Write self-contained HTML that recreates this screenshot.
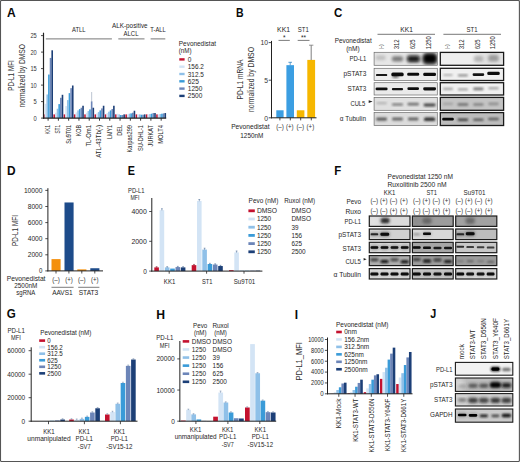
<!DOCTYPE html>
<html><head><meta charset="utf-8"><title>Figure</title>
<style>
html,body{margin:0;padding:0;background:#fff;}
body{width:520px;height:462px;overflow:hidden;}
svg{display:block;font-family:'Liberation Sans', sans-serif;}
</style></head><body>
<svg width="520" height="462" viewBox="0 0 520 462">
<defs>
<filter id="bl" x="-50%" y="-50%" width="200%" height="200%"><feGaussianBlur stdDeviation="0.8"/></filter>
<filter id="bls" x="-50%" y="-50%" width="200%" height="200%"><feGaussianBlur stdDeviation="0.5"/></filter>
<filter id="blm" x="-50%" y="-50%" width="200%" height="200%"><feGaussianBlur stdDeviation="1.5"/></filter>
<filter id="bl2" x="-50%" y="-50%" width="200%" height="200%"><feGaussianBlur stdDeviation="3"/></filter>
</defs>
<rect x="0" y="0" width="520" height="462" fill="#fff"/>

<text x="6.90" y="16.80" font-size="12" text-anchor="start" fill="#0a0a0a" font-weight="700" textLength="8.70" lengthAdjust="spacingAndGlyphs">A</text>
<rect x="43.10" y="114.38" width="1.60" height="3.72" fill="#c4122f" />
<rect x="44.76" y="103.76" width="1.60" height="14.34" fill="#d3e4f5" />
<rect x="46.42" y="94.46" width="1.60" height="23.64" fill="#8fc0e8" />
<rect x="48.08" y="74.54" width="1.60" height="43.56" fill="#3a9bd8" />
<rect x="49.74" y="57.94" width="1.60" height="60.16" fill="#6c85b8" />
<rect x="51.40" y="50.30" width="1.60" height="67.80" fill="#1c3f77" />
<line x1="48.10" y1="118.10" x2="48.10" y2="120.70" stroke="#222" stroke-width="0.9"/>
<rect x="53.38" y="114.38" width="1.60" height="3.72" fill="#c4122f" />
<rect x="55.04" y="112.72" width="1.60" height="5.38" fill="#d3e4f5" />
<rect x="56.70" y="108.74" width="1.60" height="9.36" fill="#8fc0e8" />
<rect x="58.36" y="104.09" width="1.60" height="14.01" fill="#3a9bd8" />
<rect x="60.02" y="97.78" width="1.60" height="20.32" fill="#6c85b8" />
<rect x="61.68" y="94.79" width="1.60" height="23.31" fill="#1c3f77" />
<line x1="58.38" y1="118.10" x2="58.38" y2="120.70" stroke="#222" stroke-width="0.9"/>
<rect x="63.66" y="114.38" width="1.60" height="3.72" fill="#c4122f" />
<rect x="65.32" y="106.08" width="1.60" height="12.02" fill="#d3e4f5" />
<rect x="66.98" y="100.10" width="1.60" height="18.00" fill="#8fc0e8" />
<rect x="68.64" y="93.13" width="1.60" height="24.97" fill="#3a9bd8" />
<rect x="70.30" y="88.15" width="1.60" height="29.95" fill="#6c85b8" />
<rect x="71.96" y="85.50" width="1.60" height="32.60" fill="#1c3f77" />
<line x1="68.66" y1="118.10" x2="68.66" y2="120.70" stroke="#222" stroke-width="0.9"/>
<rect x="73.94" y="114.38" width="1.60" height="3.72" fill="#c4122f" />
<rect x="75.60" y="112.39" width="1.60" height="5.71" fill="#d3e4f5" />
<rect x="77.26" y="110.40" width="1.60" height="7.70" fill="#8fc0e8" />
<rect x="78.92" y="109.07" width="1.60" height="9.03" fill="#3a9bd8" />
<rect x="80.58" y="107.74" width="1.60" height="10.36" fill="#6c85b8" />
<rect x="82.24" y="105.75" width="1.60" height="12.35" fill="#1c3f77" />
<line x1="78.94" y1="118.10" x2="78.94" y2="120.70" stroke="#222" stroke-width="0.9"/>
<rect x="84.22" y="114.38" width="1.60" height="3.72" fill="#c4122f" />
<rect x="85.88" y="112.72" width="1.60" height="5.38" fill="#d3e4f5" />
<rect x="87.54" y="111.06" width="1.60" height="7.04" fill="#8fc0e8" />
<rect x="89.20" y="109.40" width="1.60" height="8.70" fill="#3a9bd8" />
<rect x="90.86" y="101.43" width="1.60" height="16.67" fill="#6c85b8" />
<rect x="92.52" y="107.74" width="1.60" height="10.36" fill="#1c3f77" />
<line x1="91.66" y1="101.93" x2="91.66" y2="92.03" stroke="#7a8aa5" stroke-width="0.5"/>
<line x1="89.22" y1="118.10" x2="89.22" y2="120.70" stroke="#222" stroke-width="0.9"/>
<rect x="94.50" y="114.38" width="1.60" height="3.72" fill="#c4122f" />
<rect x="96.16" y="113.38" width="1.60" height="4.72" fill="#d3e4f5" />
<rect x="97.82" y="112.06" width="1.60" height="6.04" fill="#8fc0e8" />
<rect x="99.48" y="110.40" width="1.60" height="7.70" fill="#3a9bd8" />
<rect x="101.14" y="108.40" width="1.60" height="9.70" fill="#6c85b8" />
<rect x="102.80" y="105.75" width="1.60" height="12.35" fill="#1c3f77" />
<line x1="99.50" y1="118.10" x2="99.50" y2="120.70" stroke="#222" stroke-width="0.9"/>
<rect x="104.78" y="114.38" width="1.60" height="3.72" fill="#c4122f" />
<rect x="106.44" y="113.05" width="1.60" height="5.05" fill="#d3e4f5" />
<rect x="108.10" y="111.72" width="1.60" height="6.38" fill="#8fc0e8" />
<rect x="109.76" y="110.40" width="1.60" height="7.70" fill="#3a9bd8" />
<rect x="111.42" y="109.07" width="1.60" height="9.03" fill="#6c85b8" />
<rect x="113.08" y="105.75" width="1.60" height="12.35" fill="#1c3f77" />
<line x1="109.78" y1="118.10" x2="109.78" y2="120.70" stroke="#222" stroke-width="0.9"/>
<rect x="115.06" y="114.38" width="1.60" height="3.72" fill="#c4122f" />
<rect x="116.72" y="113.72" width="1.60" height="4.38" fill="#d3e4f5" />
<rect x="118.38" y="114.38" width="1.60" height="3.72" fill="#8fc0e8" />
<rect x="120.04" y="115.04" width="1.60" height="3.06" fill="#3a9bd8" />
<rect x="121.70" y="115.04" width="1.60" height="3.06" fill="#6c85b8" />
<rect x="123.36" y="114.38" width="1.60" height="3.72" fill="#1c3f77" />
<line x1="120.06" y1="118.10" x2="120.06" y2="120.70" stroke="#222" stroke-width="0.9"/>
<rect x="125.34" y="114.38" width="1.60" height="3.72" fill="#c4122f" />
<rect x="127.00" y="114.38" width="1.60" height="3.72" fill="#d3e4f5" />
<rect x="128.66" y="113.72" width="1.60" height="4.38" fill="#8fc0e8" />
<rect x="130.32" y="113.38" width="1.60" height="4.72" fill="#3a9bd8" />
<rect x="131.98" y="112.72" width="1.60" height="5.38" fill="#6c85b8" />
<rect x="133.64" y="110.73" width="1.60" height="7.37" fill="#1c3f77" />
<line x1="130.34" y1="118.10" x2="130.34" y2="120.70" stroke="#222" stroke-width="0.9"/>
<rect x="135.62" y="114.38" width="1.60" height="3.72" fill="#c4122f" />
<rect x="137.28" y="114.38" width="1.60" height="3.72" fill="#d3e4f5" />
<rect x="138.94" y="114.38" width="1.60" height="3.72" fill="#8fc0e8" />
<rect x="140.60" y="114.71" width="1.60" height="3.39" fill="#3a9bd8" />
<rect x="142.26" y="114.71" width="1.60" height="3.39" fill="#6c85b8" />
<rect x="143.92" y="114.38" width="1.60" height="3.72" fill="#1c3f77" />
<line x1="140.62" y1="118.10" x2="140.62" y2="120.70" stroke="#222" stroke-width="0.9"/>
<rect x="145.90" y="114.38" width="1.60" height="3.72" fill="#c4122f" />
<rect x="147.56" y="114.38" width="1.60" height="3.72" fill="#d3e4f5" />
<rect x="149.22" y="114.05" width="1.60" height="4.05" fill="#8fc0e8" />
<rect x="150.88" y="113.72" width="1.60" height="4.38" fill="#3a9bd8" />
<rect x="152.54" y="113.05" width="1.60" height="5.05" fill="#6c85b8" />
<rect x="154.20" y="113.05" width="1.60" height="5.05" fill="#1c3f77" />
<line x1="150.90" y1="118.10" x2="150.90" y2="120.70" stroke="#222" stroke-width="0.9"/>
<rect x="156.18" y="114.38" width="1.60" height="3.72" fill="#c4122f" />
<rect x="157.84" y="114.38" width="1.60" height="3.72" fill="#d3e4f5" />
<rect x="159.50" y="114.05" width="1.60" height="4.05" fill="#8fc0e8" />
<rect x="161.16" y="113.72" width="1.60" height="4.38" fill="#3a9bd8" />
<rect x="162.82" y="113.38" width="1.60" height="4.72" fill="#6c85b8" />
<rect x="164.48" y="113.05" width="1.60" height="5.05" fill="#1c3f77" />
<line x1="161.18" y1="118.10" x2="161.18" y2="120.70" stroke="#222" stroke-width="0.9"/>
<line x1="43.50" y1="32.70" x2="43.50" y2="118.70" stroke="#222" stroke-width="1.2"/>
<line x1="42.90" y1="118.10" x2="166.20" y2="118.10" stroke="#222" stroke-width="1.2"/>
<line x1="41.00" y1="118.10" x2="43.50" y2="118.10" stroke="#222" stroke-width="0.8"/>
<text x="36.70" y="120.50" font-size="6.8" text-anchor="end" fill="#333" textLength="3.20" lengthAdjust="spacingAndGlyphs">0</text>
<line x1="41.00" y1="101.60" x2="43.50" y2="101.60" stroke="#222" stroke-width="0.8"/>
<text x="36.70" y="104.00" font-size="6.8" text-anchor="end" fill="#333" textLength="3.20" lengthAdjust="spacingAndGlyphs">5</text>
<line x1="41.00" y1="85.10" x2="43.50" y2="85.10" stroke="#222" stroke-width="0.8"/>
<text x="36.70" y="87.50" font-size="6.8" text-anchor="end" fill="#333" textLength="6.30" lengthAdjust="spacingAndGlyphs">10</text>
<line x1="41.00" y1="68.60" x2="43.50" y2="68.60" stroke="#222" stroke-width="0.8"/>
<text x="36.70" y="71.00" font-size="6.8" text-anchor="end" fill="#333" textLength="6.30" lengthAdjust="spacingAndGlyphs">15</text>
<line x1="41.00" y1="52.10" x2="43.50" y2="52.10" stroke="#222" stroke-width="0.8"/>
<text x="36.70" y="54.50" font-size="6.8" text-anchor="end" fill="#333" textLength="6.30" lengthAdjust="spacingAndGlyphs">20</text>
<line x1="41.00" y1="35.60" x2="43.50" y2="35.60" stroke="#222" stroke-width="0.8"/>
<text x="36.70" y="38.00" font-size="6.8" text-anchor="end" fill="#333" textLength="6.30" lengthAdjust="spacingAndGlyphs">25</text>
<text x="13.70" y="75.50" font-size="8.2" text-anchor="middle" fill="#333" textLength="30.60" lengthAdjust="spacingAndGlyphs" transform="rotate(-90 13.70 75.50)">PD-L1 MFI</text>
<text x="25.10" y="75.80" font-size="8.2" text-anchor="middle" fill="#333" textLength="63.50" lengthAdjust="spacingAndGlyphs" transform="rotate(-90 25.10 75.80)">normalized by DMSO</text>
<line x1="45.80" y1="38.90" x2="111.90" y2="38.90" stroke="#777" stroke-width="1"/>
<line x1="118.30" y1="38.90" x2="144.50" y2="38.90" stroke="#777" stroke-width="1"/>
<line x1="150.60" y1="38.90" x2="165.30" y2="38.90" stroke="#777" stroke-width="1"/>
<text x="78.80" y="32.10" font-size="7" text-anchor="middle" fill="#1e1e1e" textLength="13.50" lengthAdjust="spacingAndGlyphs">ATLL</text>
<text x="129.80" y="27.70" font-size="7.2" text-anchor="middle" fill="#1e1e1e" textLength="35.60" lengthAdjust="spacingAndGlyphs">ALK-positive</text>
<text x="131.00" y="36.20" font-size="7.2" text-anchor="middle" fill="#1e1e1e" textLength="15.00" lengthAdjust="spacingAndGlyphs">ALCL</text>
<text x="158.00" y="32.20" font-size="7.2" text-anchor="middle" fill="#1e1e1e" textLength="15.40" lengthAdjust="spacingAndGlyphs">T-ALL</text>
<text x="50.00" y="125.00" font-size="7" text-anchor="end" fill="#1e1e1e" textLength="9.20" lengthAdjust="spacingAndGlyphs" transform="rotate(-90 50.00 125.00)">KK1</text>
<text x="60.28" y="125.00" font-size="7" text-anchor="end" fill="#1e1e1e" textLength="8.60" lengthAdjust="spacingAndGlyphs" transform="rotate(-90 60.28 125.00)">ST1</text>
<text x="70.56" y="125.00" font-size="7" text-anchor="end" fill="#1e1e1e" textLength="18.80" lengthAdjust="spacingAndGlyphs" transform="rotate(-90 70.56 125.00)">Su9T01</text>
<text x="80.84" y="125.00" font-size="7" text-anchor="end" fill="#1e1e1e" textLength="11.30" lengthAdjust="spacingAndGlyphs" transform="rotate(-90 80.84 125.00)">KOB</text>
<text x="91.12" y="125.00" font-size="7" text-anchor="end" fill="#1e1e1e" textLength="21.50" lengthAdjust="spacingAndGlyphs" transform="rotate(-90 91.12 125.00)">TL-Om1</text>
<text x="101.40" y="125.00" font-size="7" text-anchor="end" fill="#1e1e1e" textLength="32.80" lengthAdjust="spacingAndGlyphs" transform="rotate(-90 101.40 125.00)">ATL-43Tb(-)</text>
<text x="111.68" y="125.00" font-size="7" text-anchor="end" fill="#1e1e1e" textLength="14.00" lengthAdjust="spacingAndGlyphs" transform="rotate(-90 111.68 125.00)">LMY1</text>
<text x="121.96" y="125.00" font-size="7" text-anchor="end" fill="#1e1e1e" textLength="10.80" lengthAdjust="spacingAndGlyphs" transform="rotate(-90 121.96 125.00)">DEL</text>
<text x="132.24" y="125.00" font-size="7" text-anchor="end" fill="#1e1e1e" textLength="27.50" lengthAdjust="spacingAndGlyphs" transform="rotate(-90 132.24 125.00)">Karpas299</text>
<text x="142.52" y="125.00" font-size="7" text-anchor="end" fill="#1e1e1e" textLength="26.00" lengthAdjust="spacingAndGlyphs" transform="rotate(-90 142.52 125.00)">SU-DHL-1</text>
<text x="152.80" y="125.00" font-size="7" text-anchor="end" fill="#1e1e1e" textLength="21.50" lengthAdjust="spacingAndGlyphs" transform="rotate(-90 152.80 125.00)">JURKAT</text>
<text x="163.08" y="125.00" font-size="7" text-anchor="end" fill="#1e1e1e" textLength="18.80" lengthAdjust="spacingAndGlyphs" transform="rotate(-90 163.08 125.00)">MOLT4</text>
<text x="178.80" y="45.60" font-size="7.2" text-anchor="start" fill="#1e1e1e" textLength="37.20" lengthAdjust="spacingAndGlyphs">Pevonedistat</text>
<text x="178.80" y="53.40" font-size="7.2" text-anchor="start" fill="#1e1e1e" textLength="12.80" lengthAdjust="spacingAndGlyphs">(nM)</text>
<rect x="179.30" y="58.20" width="5.30" height="2.40" fill="#c4122f" />
<text x="187.80" y="61.90" font-size="7.2" text-anchor="start" fill="#1e1e1e" textLength="3.60" lengthAdjust="spacingAndGlyphs">0</text>
<rect x="179.30" y="65.50" width="5.30" height="2.40" fill="#d3e4f5" />
<text x="187.80" y="69.20" font-size="7.2" text-anchor="start" fill="#1e1e1e" textLength="16.00" lengthAdjust="spacingAndGlyphs">156.2</text>
<rect x="179.30" y="72.80" width="5.30" height="2.40" fill="#8fc0e8" />
<text x="187.80" y="76.50" font-size="7.2" text-anchor="start" fill="#1e1e1e" textLength="16.00" lengthAdjust="spacingAndGlyphs">312.5</text>
<rect x="179.30" y="80.10" width="5.30" height="2.40" fill="#3a9bd8" />
<text x="187.80" y="83.80" font-size="7.2" text-anchor="start" fill="#1e1e1e" textLength="11.00" lengthAdjust="spacingAndGlyphs">625</text>
<rect x="179.30" y="87.40" width="5.30" height="2.40" fill="#6c85b8" />
<text x="187.80" y="91.10" font-size="7.2" text-anchor="start" fill="#1e1e1e" textLength="14.50" lengthAdjust="spacingAndGlyphs">1250</text>
<rect x="179.30" y="94.70" width="5.30" height="2.40" fill="#1c3f77" />
<text x="187.80" y="98.40" font-size="7.2" text-anchor="start" fill="#1e1e1e" textLength="14.50" lengthAdjust="spacingAndGlyphs">2500</text>
<text x="235.90" y="16.80" font-size="12" text-anchor="start" fill="#0a0a0a" font-weight="700" textLength="7.60" lengthAdjust="spacingAndGlyphs">B</text>
<rect x="276.30" y="110.28" width="7.30" height="7.52" fill="#3b9ee2" />
<rect x="286.40" y="65.16" width="7.60" height="52.64" fill="#3b9ee2" />
<rect x="296.80" y="110.28" width="7.60" height="7.52" fill="#f6b700" />
<rect x="307.30" y="59.90" width="7.80" height="57.90" fill="#f6b700" />
<line x1="290.20" y1="65.16" x2="290.20" y2="62.30" stroke="#3586c4" stroke-width="0.8"/>
<line x1="288.40" y1="62.30" x2="292.00" y2="62.30" stroke="#3586c4" stroke-width="0.8"/>
<line x1="311.20" y1="59.90" x2="311.20" y2="45.10" stroke="#8a8a8a" stroke-width="1.1"/>
<line x1="309.00" y1="45.20" x2="313.40" y2="45.20" stroke="#8a8a8a" stroke-width="0.9"/>
<line x1="271.50" y1="40.90" x2="271.50" y2="118.30" stroke="#222" stroke-width="1"/>
<line x1="271.00" y1="117.80" x2="316.50" y2="117.80" stroke="#222" stroke-width="1"/>
<line x1="279.90" y1="117.80" x2="279.90" y2="120.40" stroke="#222" stroke-width="0.8"/>
<line x1="290.30" y1="117.80" x2="290.30" y2="120.40" stroke="#222" stroke-width="0.8"/>
<line x1="300.70" y1="117.80" x2="300.70" y2="120.40" stroke="#222" stroke-width="0.8"/>
<line x1="311.30" y1="117.80" x2="311.30" y2="120.40" stroke="#222" stroke-width="0.8"/>
<line x1="268.70" y1="117.80" x2="271.50" y2="117.80" stroke="#222" stroke-width="0.8"/>
<text x="268.00" y="120.50" font-size="7.6" text-anchor="end" fill="#333" textLength="3.80" lengthAdjust="spacingAndGlyphs">0</text>
<line x1="268.70" y1="80.20" x2="271.50" y2="80.20" stroke="#222" stroke-width="0.8"/>
<text x="268.00" y="82.90" font-size="7.6" text-anchor="end" fill="#333" textLength="3.80" lengthAdjust="spacingAndGlyphs">5</text>
<line x1="268.70" y1="42.60" x2="271.50" y2="42.60" stroke="#222" stroke-width="0.8"/>
<text x="268.00" y="45.30" font-size="7.6" text-anchor="end" fill="#333" textLength="7.60" lengthAdjust="spacingAndGlyphs">10</text>
<text x="243.30" y="79.50" font-size="8.8" text-anchor="middle" fill="#333" textLength="40.00" lengthAdjust="spacingAndGlyphs" transform="rotate(-90 243.30 79.50)">PD-L1 mRNA</text>
<text x="254.20" y="79.50" font-size="8.8" text-anchor="middle" fill="#333" textLength="65.00" lengthAdjust="spacingAndGlyphs" transform="rotate(-90 254.20 79.50)">normalized by DMSO</text>
<text x="283.60" y="32.00" font-size="7.2" text-anchor="middle" fill="#1e1e1e" textLength="13.00" lengthAdjust="spacingAndGlyphs">KK1</text>
<text x="303.30" y="32.00" font-size="7.2" text-anchor="middle" fill="#1e1e1e" textLength="11.00" lengthAdjust="spacingAndGlyphs">ST1</text>
<line x1="278.50" y1="40.40" x2="289.80" y2="40.40" stroke="#444" stroke-width="0.7"/>
<line x1="297.70" y1="40.40" x2="309.50" y2="40.40" stroke="#444" stroke-width="0.7"/>
<text x="284.20" y="40.20" font-size="6.5" text-anchor="middle" fill="#1e1e1e">*</text>
<text x="303.60" y="40.20" font-size="6.5" text-anchor="middle" fill="#1e1e1e">**</text>
<text x="280.00" y="129.20" font-size="6.4" text-anchor="middle" fill="#333" textLength="7.60" lengthAdjust="spacingAndGlyphs">(–)</text>
<text x="289.80" y="129.20" font-size="6.4" text-anchor="middle" fill="#333" textLength="7.60" lengthAdjust="spacingAndGlyphs">(+)</text>
<text x="300.20" y="129.20" font-size="6.4" text-anchor="middle" fill="#333" textLength="7.60" lengthAdjust="spacingAndGlyphs">(–)</text>
<text x="310.40" y="129.20" font-size="6.4" text-anchor="middle" fill="#333" textLength="7.60" lengthAdjust="spacingAndGlyphs">(+)</text>
<text x="231.20" y="129.40" font-size="6.8" text-anchor="start" fill="#1e1e1e" textLength="38.30" lengthAdjust="spacingAndGlyphs">Pevonedistat</text>
<text x="251.80" y="138.00" font-size="6.8" text-anchor="middle" fill="#1e1e1e" textLength="23.00" lengthAdjust="spacingAndGlyphs">1250nM</text>
<text x="334.00" y="16.70" font-size="12" text-anchor="start" fill="#0a0a0a" font-weight="700" textLength="8.30" lengthAdjust="spacingAndGlyphs">C</text>
<line x1="377.50" y1="34.30" x2="435.00" y2="34.30" stroke="#555" stroke-width="0.8"/>
<line x1="443.40" y1="34.30" x2="501.00" y2="34.30" stroke="#555" stroke-width="0.8"/>
<text x="406.60" y="32.30" font-size="7.2" text-anchor="middle" fill="#1e1e1e" textLength="12.50" lengthAdjust="spacingAndGlyphs">KK1</text>
<text x="472.00" y="32.30" font-size="7.2" text-anchor="middle" fill="#1e1e1e" textLength="11.00" lengthAdjust="spacingAndGlyphs">ST1</text>
<text x="334.70" y="42.70" font-size="7.2" text-anchor="start" fill="#1e1e1e" textLength="37.00" lengthAdjust="spacingAndGlyphs">Pevonedistat</text>
<text x="352.90" y="50.60" font-size="7.2" text-anchor="middle" fill="#1e1e1e" textLength="13.50" lengthAdjust="spacingAndGlyphs">(nM)</text>
<text x="382.80" y="49.30" font-size="5.6" text-anchor="start" fill="#1e1e1e" textLength="5.00" lengthAdjust="spacingAndGlyphs" transform="rotate(-90 382.80 49.30)">(–)</text>
<text x="398.90" y="49.30" font-size="6.8" text-anchor="start" fill="#1e1e1e" textLength="9.80" lengthAdjust="spacingAndGlyphs" transform="rotate(-90 398.90 49.30)">312</text>
<text x="414.60" y="49.30" font-size="6.8" text-anchor="start" fill="#1e1e1e" textLength="9.80" lengthAdjust="spacingAndGlyphs" transform="rotate(-90 414.60 49.30)">625</text>
<text x="431.00" y="49.30" font-size="6.8" text-anchor="start" fill="#1e1e1e" textLength="13.00" lengthAdjust="spacingAndGlyphs" transform="rotate(-90 431.00 49.30)">1250</text>
<text x="449.20" y="49.30" font-size="5.6" text-anchor="start" fill="#1e1e1e" textLength="5.00" lengthAdjust="spacingAndGlyphs" transform="rotate(-90 449.20 49.30)">(–)</text>
<text x="464.30" y="49.30" font-size="6.8" text-anchor="start" fill="#1e1e1e" textLength="9.80" lengthAdjust="spacingAndGlyphs" transform="rotate(-90 464.30 49.30)">312</text>
<text x="479.80" y="49.30" font-size="6.8" text-anchor="start" fill="#1e1e1e" textLength="9.80" lengthAdjust="spacingAndGlyphs" transform="rotate(-90 479.80 49.30)">625</text>
<text x="494.90" y="49.30" font-size="6.8" text-anchor="start" fill="#1e1e1e" textLength="13.00" lengthAdjust="spacingAndGlyphs" transform="rotate(-90 494.90 49.30)">1250</text>
<text x="366.40" y="60.80" font-size="7.2" text-anchor="end" fill="#1e1e1e" textLength="17.00" lengthAdjust="spacingAndGlyphs">PD-L1</text>
<text x="366.40" y="75.80" font-size="7.2" text-anchor="end" fill="#1e1e1e" textLength="23.00" lengthAdjust="spacingAndGlyphs">pSTAT3</text>
<text x="366.40" y="91.20" font-size="7.2" text-anchor="end" fill="#1e1e1e" textLength="18.80" lengthAdjust="spacingAndGlyphs">STAT3</text>
<text x="365.40" y="105.90" font-size="7.2" text-anchor="end" fill="#1e1e1e" textLength="15.00" lengthAdjust="spacingAndGlyphs">CUL5</text>
<path d="M368.7,100.3 L372.6,101.6 L368.7,102.9 Z" fill="#222"/>
<text x="366.00" y="120.50" font-size="7.2" text-anchor="end" fill="#1e1e1e" textLength="26.20" lengthAdjust="spacingAndGlyphs">α Tubulin</text>
<clipPath id="c1"><rect x="374.10" y="52.30" width="63.20" height="13.00"/></clipPath>
<rect x="374.10" y="52.30" width="63.20" height="13.00" fill="#e6e6e6" />
<g clip-path="url(#c1)">
<rect x="375.60" y="55.56" width="10.00" height="4.40" rx="1.87" fill="#999" opacity="0.5" filter="url(#blm)"/>
<rect x="391.90" y="56.20" width="11.20" height="5.20" rx="2.21" fill="#666" opacity="0.85" filter="url(#blm)"/>
<rect x="406.30" y="54.60" width="14.40" height="8.40" rx="3.57" fill="#555" opacity="0.55" filter="url(#blm)"/>
<rect x="407.70" y="56.20" width="11.60" height="5.20" rx="2.21" fill="#0c0c0c" opacity="0.95" filter="url(#blm)"/>
<rect x="421.90" y="52.30" width="16.00" height="13.00" rx="5.52" fill="#444" opacity="0.75" filter="url(#blm)"/>
<rect x="423.70" y="54.34" width="12.40" height="8.40" rx="3.57" fill="#050505" opacity="1" filter="url(#blm)"/>
</g>
<rect x="374.10" y="52.30" width="63.20" height="13.00" fill="none" stroke="#6a6a6a" stroke-width="0.7"/>
<clipPath id="c2"><rect x="374.10" y="68.30" width="63.20" height="12.20"/></clipPath>
<rect x="374.10" y="68.30" width="63.20" height="12.20" fill="#ededed" />
<g clip-path="url(#c2)">
<rect x="376.00" y="74.01" width="11.20" height="2.00" rx="0.85" fill="#111" opacity="0.95" filter="url(#bls)"/>
<rect x="391.30" y="72.50" width="12.40" height="3.80" rx="1.61" fill="#111" opacity="1" filter="url(#bls)"/>
<rect x="392.50" y="75.40" width="6.00" height="2.40" rx="1.02" fill="#111" opacity="0.7" filter="url(#bl)"/>
<rect x="407.20" y="72.66" width="12.00" height="3.00" rx="1.27" fill="#111" opacity="1" filter="url(#bls)"/>
<rect x="423.20" y="72.70" width="12.80" height="3.40" rx="1.44" fill="#111" opacity="1" filter="url(#bls)"/>
</g>
<rect x="374.10" y="68.30" width="63.20" height="12.20" fill="none" stroke="#6a6a6a" stroke-width="0.7"/>
<clipPath id="c3"><rect x="374.10" y="82.70" width="63.20" height="12.30"/></clipPath>
<rect x="374.10" y="82.70" width="63.20" height="12.30" fill="#eaeaea" />
<g clip-path="url(#c3)">
<rect x="375.60" y="87.45" width="12.00" height="2.80" rx="1.19" fill="#111" opacity="1" filter="url(#bls)"/>
<rect x="391.90" y="87.90" width="11.20" height="2.40" rx="1.02" fill="#111" opacity="0.97" filter="url(#bls)"/>
<rect x="407.40" y="87.20" width="11.60" height="2.80" rx="1.19" fill="#111" opacity="1" filter="url(#bls)"/>
<rect x="423.20" y="87.15" width="12.80" height="3.40" rx="1.44" fill="#111" opacity="1" filter="url(#bls)"/>
</g>
<rect x="374.10" y="82.70" width="63.20" height="12.30" fill="none" stroke="#6a6a6a" stroke-width="0.7"/>
<clipPath id="c4"><rect x="374.10" y="97.40" width="63.20" height="12.90"/></clipPath>
<rect x="374.10" y="97.40" width="63.20" height="12.90" fill="#e0e0e0" />
<g clip-path="url(#c4)">
<rect x="376.40" y="102.11" width="10.40" height="2.20" rx="0.94" fill="#666" opacity="0.35" filter="url(#bl)"/>
<rect x="391.90" y="103.30" width="11.20" height="2.40" rx="1.02" fill="#444" opacity="0.6" filter="url(#bl)"/>
<rect x="407.40" y="102.81" width="11.60" height="2.60" rx="1.10" fill="#444" opacity="0.7" filter="url(#bl)"/>
<rect x="423.60" y="103.38" width="12.00" height="3.00" rx="1.27" fill="#2a2a2a" opacity="0.85" filter="url(#bl)"/>
</g>
<rect x="374.10" y="97.40" width="63.20" height="12.90" fill="none" stroke="#6a6a6a" stroke-width="0.7"/>
<clipPath id="c5"><rect x="374.10" y="112.60" width="63.20" height="12.90"/></clipPath>
<rect x="374.10" y="112.60" width="63.20" height="12.90" fill="#dcdcdc" />
<g clip-path="url(#c5)">
<rect x="376.20" y="117.45" width="10.80" height="3.20" rx="1.36" fill="#333" opacity="0.75" filter="url(#bl)"/>
<rect x="392.10" y="117.55" width="10.80" height="3.00" rx="1.27" fill="#333" opacity="0.7" filter="url(#bl)"/>
<rect x="408.00" y="117.55" width="10.40" height="3.00" rx="1.27" fill="#333" opacity="0.72" filter="url(#bl)"/>
<rect x="424.00" y="117.51" width="11.20" height="3.60" rx="1.53" fill="#1a1a1a" opacity="0.9" filter="url(#bl)"/>
</g>
<rect x="374.10" y="112.60" width="63.20" height="12.90" fill="none" stroke="#6a6a6a" stroke-width="0.7"/>
<clipPath id="c6"><rect x="440.30" y="52.40" width="63.30" height="12.90"/></clipPath>
<rect x="440.30" y="52.40" width="63.30" height="12.90" fill="#eeeeee" />
<g clip-path="url(#c6)">
<rect x="480.30" y="52.40" width="23.30" height="12.90" fill="#bbb" opacity="0.3" filter="url(#bl2)"/>
<rect x="473.80" y="55.85" width="9.20" height="6.00" rx="2.55" fill="#888" opacity="0.55" filter="url(#blm)"/>
<rect x="488.30" y="54.80" width="10.40" height="6.80" rx="2.89" fill="#777" opacity="0.65" filter="url(#blm)"/>
</g>
<rect x="440.30" y="52.40" width="63.30" height="12.90" fill="none" stroke="#1a1a1a" stroke-width="1.3"/>
<clipPath id="c7"><rect x="440.30" y="68.30" width="63.30" height="12.20"/></clipPath>
<rect x="440.30" y="68.30" width="63.30" height="12.20" fill="#f0f0f0" />
<g clip-path="url(#c7)">
<rect x="443.40" y="74.01" width="9.20" height="2.00" rx="0.85" fill="#555" opacity="0.4" filter="url(#bl)"/>
<rect x="457.90" y="74.28" width="10.00" height="2.20" rx="0.94" fill="#444" opacity="0.55" filter="url(#bl)"/>
<rect x="472.60" y="73.34" width="11.60" height="2.60" rx="1.10" fill="#111" opacity="0.97" filter="url(#bls)"/>
<rect x="487.30" y="71.82" width="12.40" height="3.20" rx="1.36" fill="#0a0a0a" opacity="1" filter="url(#bls)"/>
</g>
<rect x="440.30" y="68.30" width="63.30" height="12.20" fill="none" stroke="#1a1a1a" stroke-width="1.3"/>
<clipPath id="c8"><rect x="440.30" y="82.70" width="63.30" height="12.30"/></clipPath>
<rect x="440.30" y="82.70" width="63.30" height="12.30" fill="#f0f0f0" />
<g clip-path="url(#c8)">
<rect x="443.00" y="87.75" width="10.00" height="2.20" rx="0.94" fill="#555" opacity="0.5" filter="url(#bl)"/>
<rect x="457.90" y="88.37" width="10.00" height="2.20" rx="0.94" fill="#555" opacity="0.5" filter="url(#bl)"/>
<rect x="473.20" y="87.55" width="10.40" height="2.60" rx="1.10" fill="#444" opacity="0.7" filter="url(#bl)"/>
<rect x="488.30" y="87.14" width="10.40" height="2.20" rx="0.94" fill="#555" opacity="0.55" filter="url(#bl)"/>
</g>
<rect x="440.30" y="82.70" width="63.30" height="12.30" fill="none" stroke="#1a1a1a" stroke-width="1.3"/>
<clipPath id="c9"><rect x="440.30" y="97.40" width="63.30" height="12.90"/></clipPath>
<rect x="440.30" y="97.40" width="63.30" height="12.90" fill="#c4c4c4" />
<g clip-path="url(#c9)">
<rect x="443.00" y="102.65" width="10.00" height="2.40" rx="1.02" fill="#777" opacity="0.45" filter="url(#bl)"/>
<rect x="457.50" y="103.09" width="10.80" height="2.80" rx="1.19" fill="#555" opacity="0.65" filter="url(#bl)"/>
<rect x="473.20" y="103.20" width="10.40" height="2.60" rx="1.10" fill="#555" opacity="0.6" filter="url(#bl)"/>
<rect x="488.30" y="102.55" width="10.40" height="2.60" rx="1.10" fill="#666" opacity="0.55" filter="url(#bl)"/>
</g>
<rect x="440.30" y="97.40" width="63.30" height="12.90" fill="none" stroke="#1a1a1a" stroke-width="1.3"/>
<clipPath id="c10"><rect x="440.30" y="112.60" width="63.30" height="12.90"/></clipPath>
<rect x="440.30" y="112.60" width="63.30" height="12.90" fill="#bcbcbc" />
<g clip-path="url(#c10)">
<rect x="442.20" y="117.65" width="11.60" height="2.80" rx="1.19" fill="#0c0c0c" opacity="1" filter="url(#bls)"/>
<rect x="457.70" y="118.39" width="10.40" height="2.60" rx="1.10" fill="#222" opacity="0.8" filter="url(#bl)"/>
<rect x="473.20" y="118.39" width="10.40" height="2.60" rx="1.10" fill="#333" opacity="0.7" filter="url(#bl)"/>
<rect x="488.10" y="117.75" width="10.80" height="2.60" rx="1.10" fill="#333" opacity="0.68" filter="url(#bl)"/>
</g>
<rect x="440.30" y="112.60" width="63.30" height="12.90" fill="none" stroke="#1a1a1a" stroke-width="1.3"/>
<text x="6.90" y="174.60" font-size="12" text-anchor="start" fill="#0a0a0a" font-weight="700" textLength="8.60" lengthAdjust="spacingAndGlyphs">D</text>
<rect x="51.50" y="259.11" width="9.10" height="11.79" fill="#f4900c" />
<rect x="64.50" y="202.47" width="9.10" height="68.42" fill="#1d4b8a" />
<rect x="77.30" y="269.37" width="9.10" height="1.53" fill="#f4900c" />
<rect x="90.30" y="268.24" width="9.10" height="2.66" fill="#1d4b8a" />
<line x1="47.90" y1="188.20" x2="47.90" y2="271.40" stroke="#222" stroke-width="1"/>
<line x1="47.40" y1="270.90" x2="103.00" y2="270.90" stroke="#222" stroke-width="1"/>
<line x1="56.00" y1="270.90" x2="56.00" y2="273.50" stroke="#222" stroke-width="0.8"/>
<line x1="68.90" y1="270.90" x2="68.90" y2="273.50" stroke="#222" stroke-width="0.8"/>
<line x1="81.80" y1="270.90" x2="81.80" y2="273.50" stroke="#222" stroke-width="0.8"/>
<line x1="94.80" y1="270.90" x2="94.80" y2="273.50" stroke="#222" stroke-width="0.8"/>
<line x1="45.30" y1="270.90" x2="47.90" y2="270.90" stroke="#222" stroke-width="0.8"/>
<text x="42.50" y="273.30" font-size="6.8" text-anchor="end" fill="#1e1e1e" textLength="3.40" lengthAdjust="spacingAndGlyphs">0</text>
<line x1="45.30" y1="254.80" x2="47.90" y2="254.80" stroke="#222" stroke-width="0.8"/>
<text x="42.50" y="257.20" font-size="6.8" text-anchor="end" fill="#1e1e1e" textLength="14.80" lengthAdjust="spacingAndGlyphs">2000</text>
<line x1="45.30" y1="238.70" x2="47.90" y2="238.70" stroke="#222" stroke-width="0.8"/>
<text x="42.50" y="241.10" font-size="6.8" text-anchor="end" fill="#1e1e1e" textLength="14.80" lengthAdjust="spacingAndGlyphs">4000</text>
<line x1="45.30" y1="222.60" x2="47.90" y2="222.60" stroke="#222" stroke-width="0.8"/>
<text x="42.50" y="225.00" font-size="6.8" text-anchor="end" fill="#1e1e1e" textLength="14.80" lengthAdjust="spacingAndGlyphs">6000</text>
<line x1="45.30" y1="206.50" x2="47.90" y2="206.50" stroke="#222" stroke-width="0.8"/>
<text x="42.50" y="208.90" font-size="6.8" text-anchor="end" fill="#1e1e1e" textLength="14.80" lengthAdjust="spacingAndGlyphs">8000</text>
<line x1="45.30" y1="190.40" x2="47.90" y2="190.40" stroke="#222" stroke-width="0.8"/>
<text x="42.50" y="192.80" font-size="6.8" text-anchor="end" fill="#1e1e1e" textLength="18.60" lengthAdjust="spacingAndGlyphs">10000</text>
<text x="18.00" y="230.50" font-size="8.6" text-anchor="middle" fill="#333" textLength="31.00" lengthAdjust="spacingAndGlyphs" transform="rotate(-90 18.00 230.50)">PD-L1 MFI</text>
<text x="6.70" y="280.50" font-size="6.6" text-anchor="start" fill="#1e1e1e" textLength="38.80" lengthAdjust="spacingAndGlyphs">Pevonedistat</text>
<text x="25.80" y="287.60" font-size="6.6" text-anchor="middle" fill="#1e1e1e" textLength="23.00" lengthAdjust="spacingAndGlyphs">2500nM</text>
<text x="25.80" y="294.80" font-size="6.6" text-anchor="middle" fill="#1e1e1e" textLength="19.00" lengthAdjust="spacingAndGlyphs">sgRNA</text>
<text x="56.00" y="282.20" font-size="6.4" text-anchor="middle" fill="#333" textLength="7.60" lengthAdjust="spacingAndGlyphs">(–)</text>
<text x="69.00" y="282.20" font-size="6.4" text-anchor="middle" fill="#333" textLength="7.60" lengthAdjust="spacingAndGlyphs">(+)</text>
<text x="81.80" y="282.20" font-size="6.4" text-anchor="middle" fill="#333" textLength="7.60" lengthAdjust="spacingAndGlyphs">(–)</text>
<text x="94.80" y="282.20" font-size="6.4" text-anchor="middle" fill="#333" textLength="7.60" lengthAdjust="spacingAndGlyphs">(+)</text>
<line x1="51.50" y1="287.30" x2="73.60" y2="287.30" stroke="#444" stroke-width="0.7"/>
<line x1="78.20" y1="287.30" x2="99.40" y2="287.30" stroke="#444" stroke-width="0.7"/>
<text x="62.40" y="295.00" font-size="7" text-anchor="middle" fill="#1e1e1e" textLength="20.50" lengthAdjust="spacingAndGlyphs">AAVS1</text>
<text x="88.50" y="295.00" font-size="7" text-anchor="middle" fill="#1e1e1e" textLength="19.60" lengthAdjust="spacingAndGlyphs">STAT3</text>
<text x="127.70" y="174.60" font-size="12" text-anchor="start" fill="#0a0a0a" font-weight="700" textLength="7.20" lengthAdjust="spacingAndGlyphs">E</text>
<text x="128.00" y="193.00" font-size="7" text-anchor="start" fill="#1e1e1e" textLength="16.50" lengthAdjust="spacingAndGlyphs">PD-L1</text>
<text x="134.90" y="200.20" font-size="7" text-anchor="middle" fill="#1e1e1e" textLength="9.00" lengthAdjust="spacingAndGlyphs">MFI</text>
<rect x="154.30" y="267.38" width="4.60" height="3.73" fill="#c4122f" />
<line x1="156.60" y1="267.68" x2="156.60" y2="266.57" stroke="#7a0a1a" stroke-width="0.5"/>
<line x1="155.70" y1="266.68" x2="157.50" y2="266.68" stroke="#7a0a1a" stroke-width="0.5"/>
<rect x="159.60" y="210.16" width="4.60" height="60.94" fill="#d3e4f5" />
<line x1="161.90" y1="210.46" x2="161.90" y2="208.66" stroke="#3a5f8f" stroke-width="0.5"/>
<line x1="161.00" y1="208.76" x2="162.80" y2="208.76" stroke="#3a5f8f" stroke-width="0.5"/>
<rect x="164.90" y="267.38" width="4.60" height="3.73" fill="#8fc0e8" />
<line x1="167.20" y1="267.68" x2="167.20" y2="266.57" stroke="#3a5f8f" stroke-width="0.5"/>
<line x1="166.30" y1="266.68" x2="168.10" y2="266.68" stroke="#3a5f8f" stroke-width="0.5"/>
<rect x="170.20" y="268.57" width="4.60" height="2.53" fill="#3a9bd8" />
<rect x="175.50" y="267.08" width="4.60" height="4.02" fill="#6c85b8" />
<line x1="177.80" y1="267.38" x2="177.80" y2="266.28" stroke="#3a5f8f" stroke-width="0.5"/>
<line x1="176.90" y1="266.38" x2="178.70" y2="266.38" stroke="#3a5f8f" stroke-width="0.5"/>
<rect x="180.80" y="267.38" width="4.60" height="3.73" fill="#1c3f77" />
<line x1="183.10" y1="267.68" x2="183.10" y2="266.57" stroke="#3a5f8f" stroke-width="0.5"/>
<line x1="182.20" y1="266.68" x2="184.00" y2="266.68" stroke="#3a5f8f" stroke-width="0.5"/>
<rect x="191.70" y="265.14" width="4.60" height="5.96" fill="#c4122f" />
<line x1="194.00" y1="265.44" x2="194.00" y2="264.34" stroke="#7a0a1a" stroke-width="0.5"/>
<line x1="193.10" y1="264.44" x2="194.90" y2="264.44" stroke="#7a0a1a" stroke-width="0.5"/>
<rect x="197.00" y="200.92" width="4.60" height="70.18" fill="#d3e4f5" />
<line x1="199.30" y1="201.22" x2="199.30" y2="199.42" stroke="#3a5f8f" stroke-width="0.5"/>
<line x1="198.40" y1="199.52" x2="200.20" y2="199.52" stroke="#3a5f8f" stroke-width="0.5"/>
<rect x="202.30" y="249.57" width="4.60" height="21.53" fill="#8fc0e8" />
<line x1="204.60" y1="249.87" x2="204.60" y2="248.07" stroke="#3a5f8f" stroke-width="0.5"/>
<line x1="203.70" y1="248.17" x2="205.50" y2="248.17" stroke="#3a5f8f" stroke-width="0.5"/>
<rect x="207.60" y="264.02" width="4.60" height="7.08" fill="#3a9bd8" />
<line x1="209.90" y1="264.32" x2="209.90" y2="263.22" stroke="#3a5f8f" stroke-width="0.5"/>
<line x1="209.00" y1="263.32" x2="210.80" y2="263.32" stroke="#3a5f8f" stroke-width="0.5"/>
<rect x="212.90" y="264.54" width="4.60" height="6.56" fill="#6c85b8" />
<line x1="215.20" y1="264.84" x2="215.20" y2="263.74" stroke="#3a5f8f" stroke-width="0.5"/>
<line x1="214.30" y1="263.84" x2="216.10" y2="263.84" stroke="#3a5f8f" stroke-width="0.5"/>
<rect x="218.20" y="266.03" width="4.60" height="5.07" fill="#1c3f77" />
<line x1="220.50" y1="266.33" x2="220.50" y2="265.23" stroke="#3a5f8f" stroke-width="0.5"/>
<line x1="219.60" y1="265.33" x2="221.40" y2="265.33" stroke="#3a5f8f" stroke-width="0.5"/>
<rect x="229.00" y="270.21" width="4.60" height="0.89" fill="#c4122f" />
<rect x="234.30" y="252.40" width="4.60" height="18.70" fill="#d3e4f5" />
<line x1="236.60" y1="252.70" x2="236.60" y2="250.90" stroke="#3a5f8f" stroke-width="0.5"/>
<line x1="235.70" y1="251.00" x2="237.50" y2="251.00" stroke="#3a5f8f" stroke-width="0.5"/>
<rect x="239.60" y="270.65" width="4.60" height="0.45" fill="#8fc0e8" />
<rect x="244.90" y="270.73" width="4.60" height="0.37" fill="#3a9bd8" />
<rect x="250.20" y="270.65" width="4.60" height="0.45" fill="#6c85b8" />
<rect x="255.50" y="270.65" width="4.60" height="0.45" fill="#1c3f77" />
<line x1="151.80" y1="198.00" x2="151.80" y2="271.60" stroke="#222" stroke-width="1"/>
<line x1="151.30" y1="271.10" x2="262.40" y2="271.10" stroke="#222" stroke-width="1"/>
<line x1="169.20" y1="271.10" x2="169.20" y2="273.70" stroke="#222" stroke-width="0.8"/>
<line x1="206.60" y1="271.10" x2="206.60" y2="273.70" stroke="#222" stroke-width="0.8"/>
<line x1="244.00" y1="271.10" x2="244.00" y2="273.70" stroke="#222" stroke-width="0.8"/>
<line x1="149.20" y1="271.10" x2="151.80" y2="271.10" stroke="#222" stroke-width="0.8"/>
<text x="146.80" y="273.60" font-size="7" text-anchor="end" fill="#1e1e1e" textLength="3.60" lengthAdjust="spacingAndGlyphs">0</text>
<line x1="149.20" y1="241.30" x2="151.80" y2="241.30" stroke="#222" stroke-width="0.8"/>
<text x="146.80" y="243.80" font-size="7" text-anchor="end" fill="#1e1e1e" textLength="15.40" lengthAdjust="spacingAndGlyphs">2000</text>
<line x1="149.20" y1="211.50" x2="151.80" y2="211.50" stroke="#222" stroke-width="0.8"/>
<text x="146.80" y="214.00" font-size="7" text-anchor="end" fill="#1e1e1e" textLength="15.40" lengthAdjust="spacingAndGlyphs">4000</text>
<text x="169.60" y="283.90" font-size="6.8" text-anchor="middle" fill="#1e1e1e" textLength="11.50" lengthAdjust="spacingAndGlyphs">KK1</text>
<text x="207.20" y="283.90" font-size="6.8" text-anchor="middle" fill="#1e1e1e" textLength="10.50" lengthAdjust="spacingAndGlyphs">ST1</text>
<text x="244.50" y="283.90" font-size="6.8" text-anchor="middle" fill="#1e1e1e" textLength="21.50" lengthAdjust="spacingAndGlyphs">Su9T01</text>
<text x="248.60" y="203.10" font-size="7" text-anchor="start" fill="#1e1e1e" textLength="29.70" lengthAdjust="spacingAndGlyphs">Pevo (nM)</text>
<text x="284.30" y="203.10" font-size="7" text-anchor="start" fill="#1e1e1e" textLength="30.90" lengthAdjust="spacingAndGlyphs">Ruxol (nM)</text>
<rect x="248.40" y="209.40" width="6.40" height="2.80" fill="#c4122f" />
<text x="256.90" y="213.10" font-size="6.8" text-anchor="start" fill="#1e1e1e" textLength="20.20" lengthAdjust="spacingAndGlyphs">DMSO</text>
<text x="291.40" y="213.10" font-size="6.8" text-anchor="start" fill="#1e1e1e" textLength="19.60" lengthAdjust="spacingAndGlyphs">DMSO</text>
<rect x="248.40" y="217.60" width="6.40" height="2.80" fill="#d3e4f5" />
<text x="256.90" y="221.30" font-size="6.8" text-anchor="start" fill="#1e1e1e" textLength="14.30" lengthAdjust="spacingAndGlyphs">1250</text>
<text x="291.40" y="221.30" font-size="6.8" text-anchor="start" fill="#1e1e1e" textLength="19.60" lengthAdjust="spacingAndGlyphs">DMSO</text>
<rect x="248.40" y="225.80" width="6.40" height="2.80" fill="#8fc0e8" />
<text x="256.90" y="229.50" font-size="6.8" text-anchor="start" fill="#1e1e1e" textLength="14.30" lengthAdjust="spacingAndGlyphs">1250</text>
<text x="291.40" y="229.50" font-size="6.8" text-anchor="start" fill="#1e1e1e" textLength="7.00" lengthAdjust="spacingAndGlyphs">39</text>
<rect x="248.40" y="234.00" width="6.40" height="2.80" fill="#3a9bd8" />
<text x="256.90" y="237.70" font-size="6.8" text-anchor="start" fill="#1e1e1e" textLength="14.30" lengthAdjust="spacingAndGlyphs">1250</text>
<text x="291.40" y="237.70" font-size="6.8" text-anchor="start" fill="#1e1e1e" textLength="10.50" lengthAdjust="spacingAndGlyphs">156</text>
<rect x="248.40" y="242.20" width="6.40" height="2.80" fill="#6c85b8" />
<text x="256.90" y="245.90" font-size="6.8" text-anchor="start" fill="#1e1e1e" textLength="14.30" lengthAdjust="spacingAndGlyphs">1250</text>
<text x="291.40" y="245.90" font-size="6.8" text-anchor="start" fill="#1e1e1e" textLength="10.50" lengthAdjust="spacingAndGlyphs">625</text>
<rect x="248.40" y="250.40" width="6.40" height="2.80" fill="#1c3f77" />
<text x="256.90" y="254.10" font-size="6.8" text-anchor="start" fill="#1e1e1e" textLength="14.30" lengthAdjust="spacingAndGlyphs">1250</text>
<text x="291.40" y="254.10" font-size="6.8" text-anchor="start" fill="#1e1e1e" textLength="14.30" lengthAdjust="spacingAndGlyphs">2500</text>
<text x="334.20" y="174.60" font-size="12" text-anchor="start" fill="#0a0a0a" font-weight="700" textLength="7.00" lengthAdjust="spacingAndGlyphs">F</text>
<text x="387.50" y="178.90" font-size="7.2" text-anchor="start" fill="#1e1e1e" textLength="65.50" lengthAdjust="spacingAndGlyphs">Pevonedistat 1250 nM</text>
<text x="387.50" y="187.00" font-size="7.2" text-anchor="start" fill="#1e1e1e" textLength="59.00" lengthAdjust="spacingAndGlyphs">Ruxolitinib 2500 nM</text>
<text x="389.60" y="194.60" font-size="7.2" text-anchor="middle" fill="#1e1e1e" textLength="11.50" lengthAdjust="spacingAndGlyphs">KK1</text>
<text x="431.80" y="194.60" font-size="7.2" text-anchor="middle" fill="#1e1e1e" textLength="10.50" lengthAdjust="spacingAndGlyphs">ST1</text>
<text x="474.60" y="194.60" font-size="7.2" text-anchor="middle" fill="#1e1e1e" textLength="22.00" lengthAdjust="spacingAndGlyphs">Su9T01</text>
<text x="361.00" y="204.10" font-size="7.2" text-anchor="end" fill="#1e1e1e" textLength="14.50" lengthAdjust="spacingAndGlyphs">Pevo</text>
<text x="361.00" y="213.60" font-size="7.2" text-anchor="end" fill="#1e1e1e" textLength="15.50" lengthAdjust="spacingAndGlyphs">Ruxo</text>
<text x="374.30" y="203.30" font-size="6.4" text-anchor="middle" fill="#333" textLength="7.60" lengthAdjust="spacingAndGlyphs">(–)</text>
<text x="374.30" y="213.10" font-size="6.4" text-anchor="middle" fill="#333" textLength="7.60" lengthAdjust="spacingAndGlyphs">(–)</text>
<text x="383.80" y="203.30" font-size="6.4" text-anchor="middle" fill="#333" textLength="7.60" lengthAdjust="spacingAndGlyphs">(+)</text>
<text x="383.80" y="213.10" font-size="6.4" text-anchor="middle" fill="#333" textLength="7.60" lengthAdjust="spacingAndGlyphs">(–)</text>
<text x="393.60" y="203.30" font-size="6.4" text-anchor="middle" fill="#333" textLength="7.60" lengthAdjust="spacingAndGlyphs">(–)</text>
<text x="393.60" y="213.10" font-size="6.4" text-anchor="middle" fill="#333" textLength="7.60" lengthAdjust="spacingAndGlyphs">(+)</text>
<text x="403.90" y="203.30" font-size="6.4" text-anchor="middle" fill="#333" textLength="7.60" lengthAdjust="spacingAndGlyphs">(+)</text>
<text x="403.90" y="213.10" font-size="6.4" text-anchor="middle" fill="#333" textLength="7.60" lengthAdjust="spacingAndGlyphs">(+)</text>
<text x="416.90" y="203.30" font-size="6.4" text-anchor="middle" fill="#333" textLength="7.60" lengthAdjust="spacingAndGlyphs">(–)</text>
<text x="416.90" y="213.10" font-size="6.4" text-anchor="middle" fill="#333" textLength="7.60" lengthAdjust="spacingAndGlyphs">(–)</text>
<text x="426.40" y="203.30" font-size="6.4" text-anchor="middle" fill="#333" textLength="7.60" lengthAdjust="spacingAndGlyphs">(+)</text>
<text x="426.40" y="213.10" font-size="6.4" text-anchor="middle" fill="#333" textLength="7.60" lengthAdjust="spacingAndGlyphs">(–)</text>
<text x="436.20" y="203.30" font-size="6.4" text-anchor="middle" fill="#333" textLength="7.60" lengthAdjust="spacingAndGlyphs">(–)</text>
<text x="436.20" y="213.10" font-size="6.4" text-anchor="middle" fill="#333" textLength="7.60" lengthAdjust="spacingAndGlyphs">(+)</text>
<text x="446.50" y="203.30" font-size="6.4" text-anchor="middle" fill="#333" textLength="7.60" lengthAdjust="spacingAndGlyphs">(+)</text>
<text x="446.50" y="213.10" font-size="6.4" text-anchor="middle" fill="#333" textLength="7.60" lengthAdjust="spacingAndGlyphs">(+)</text>
<text x="459.20" y="203.30" font-size="6.4" text-anchor="middle" fill="#333" textLength="7.60" lengthAdjust="spacingAndGlyphs">(–)</text>
<text x="459.20" y="213.10" font-size="6.4" text-anchor="middle" fill="#333" textLength="7.60" lengthAdjust="spacingAndGlyphs">(–)</text>
<text x="468.70" y="203.30" font-size="6.4" text-anchor="middle" fill="#333" textLength="7.60" lengthAdjust="spacingAndGlyphs">(+)</text>
<text x="468.70" y="213.10" font-size="6.4" text-anchor="middle" fill="#333" textLength="7.60" lengthAdjust="spacingAndGlyphs">(–)</text>
<text x="478.50" y="203.30" font-size="6.4" text-anchor="middle" fill="#333" textLength="7.60" lengthAdjust="spacingAndGlyphs">(–)</text>
<text x="478.50" y="213.10" font-size="6.4" text-anchor="middle" fill="#333" textLength="7.60" lengthAdjust="spacingAndGlyphs">(+)</text>
<text x="488.70" y="203.30" font-size="6.4" text-anchor="middle" fill="#333" textLength="7.60" lengthAdjust="spacingAndGlyphs">(+)</text>
<text x="488.70" y="213.10" font-size="6.4" text-anchor="middle" fill="#333" textLength="7.60" lengthAdjust="spacingAndGlyphs">(+)</text>
<text x="361.00" y="223.90" font-size="7.2" text-anchor="end" fill="#1e1e1e" textLength="16.50" lengthAdjust="spacingAndGlyphs">PD-L1</text>
<text x="361.00" y="237.10" font-size="7.2" text-anchor="end" fill="#1e1e1e" textLength="22.50" lengthAdjust="spacingAndGlyphs">pSTAT3</text>
<text x="361.00" y="250.80" font-size="7.2" text-anchor="end" fill="#1e1e1e" textLength="18.50" lengthAdjust="spacingAndGlyphs">STAT3</text>
<text x="361.00" y="263.90" font-size="7.2" text-anchor="end" fill="#1e1e1e" textLength="15.50" lengthAdjust="spacingAndGlyphs">CUL5</text>
<text x="361.00" y="276.60" font-size="7.2" text-anchor="end" fill="#1e1e1e" textLength="27.50" lengthAdjust="spacingAndGlyphs">α Tubulin</text>
<path d="M363.6,258 L366.6,259.2 L363.6,260.4 Z" fill="#222"/>
<clipPath id="c11"><rect x="369.30" y="216.00" width="40.70" height="10.40"/></clipPath>
<rect x="369.30" y="216.00" width="40.70" height="10.40" fill="#dadada" />
<g clip-path="url(#c11)">
<rect x="369.30" y="216.00" width="8.00" height="10.40" fill="#fff" opacity="0.3" filter="url(#bl2)"/>
<rect x="380.70" y="218.08" width="8.80" height="5.20" rx="2.21" fill="#2a2a2a" opacity="0.9" filter="url(#blm)"/>
<rect x="381.50" y="219.08" width="7.20" height="3.20" rx="1.36" fill="#222" opacity="0.6" filter="url(#bl)"/>
</g>
<rect x="369.30" y="216.00" width="40.70" height="10.40" fill="none" stroke="#1c1c1c" stroke-width="1.2"/>
<clipPath id="c12"><rect x="412.40" y="216.00" width="40.80" height="10.40"/></clipPath>
<rect x="412.40" y="216.00" width="40.80" height="10.40" fill="#9c9c9c" />
<g clip-path="url(#c12)">
<rect x="412.40" y="216.00" width="8.00" height="10.40" fill="#666" opacity="0.35" filter="url(#bl2)"/>
<rect x="422.40" y="217.48" width="9.20" height="6.40" rx="2.72" fill="#444" opacity="0.6" filter="url(#blm)"/>
</g>
<rect x="412.40" y="216.00" width="40.80" height="10.40" fill="none" stroke="#1c1c1c" stroke-width="1.2"/>
<clipPath id="c13"><rect x="455.70" y="216.00" width="41.10" height="10.40"/></clipPath>
<rect x="455.70" y="216.00" width="41.10" height="10.40" fill="#a2a2a2" />
<g clip-path="url(#c13)">
<rect x="465.60" y="217.48" width="9.20" height="6.40" rx="2.72" fill="#444" opacity="0.6" filter="url(#blm)"/>
</g>
<rect x="455.70" y="216.00" width="41.10" height="10.40" fill="none" stroke="#1c1c1c" stroke-width="1.2"/>
<clipPath id="c14"><rect x="369.30" y="229.00" width="40.70" height="10.60"/></clipPath>
<rect x="369.30" y="229.00" width="40.70" height="10.60" fill="#d2d2d2" />
<g clip-path="url(#c14)">
<rect x="370.20" y="232.70" width="8.40" height="3.20" rx="1.36" fill="#444" opacity="0.5" filter="url(#blm)"/>
<rect x="370.60" y="233.30" width="7.60" height="2.00" rx="0.85" fill="#1a1a1a" opacity="0.9" filter="url(#bls)"/>
<rect x="380.00" y="232.10" width="9.60" height="4.40" rx="1.87" fill="#333" opacity="0.6" filter="url(#blm)"/>
<rect x="380.40" y="232.80" width="8.80" height="3.00" rx="1.27" fill="#080808" opacity="1" filter="url(#bls)"/>
</g>
<rect x="369.30" y="229.00" width="40.70" height="10.60" fill="none" stroke="#1c1c1c" stroke-width="1.2"/>
<clipPath id="c15"><rect x="412.40" y="229.00" width="40.80" height="10.60"/></clipPath>
<rect x="412.40" y="229.00" width="40.80" height="10.60" fill="#d8d8d8" />
<g clip-path="url(#c15)">
<rect x="413.30" y="233.40" width="6.80" height="1.80" rx="0.77" fill="#444" opacity="0.55" filter="url(#bl)"/>
<rect x="422.80" y="231.97" width="8.40" height="3.60" rx="1.53" fill="#444" opacity="0.4" filter="url(#blm)"/>
<rect x="423.00" y="232.57" width="8.00" height="2.40" rx="1.02" fill="#080808" opacity="1" filter="url(#bls)"/>
</g>
<rect x="412.40" y="229.00" width="40.80" height="10.60" fill="none" stroke="#1c1c1c" stroke-width="1.2"/>
<clipPath id="c16"><rect x="455.70" y="229.00" width="41.10" height="10.60"/></clipPath>
<rect x="455.70" y="229.00" width="41.10" height="10.60" fill="#bdbdbd" />
<g clip-path="url(#c16)">
<rect x="456.10" y="232.70" width="8.40" height="3.20" rx="1.36" fill="#444" opacity="0.5" filter="url(#blm)"/>
<rect x="456.50" y="233.30" width="7.60" height="2.00" rx="0.85" fill="#1a1a1a" opacity="0.9" filter="url(#bls)"/>
<rect x="465.40" y="231.57" width="9.60" height="4.40" rx="1.87" fill="#333" opacity="0.6" filter="url(#blm)"/>
<rect x="465.80" y="232.27" width="8.80" height="3.00" rx="1.27" fill="#080808" opacity="1" filter="url(#bls)"/>
</g>
<rect x="455.70" y="229.00" width="41.10" height="10.60" fill="none" stroke="#1c1c1c" stroke-width="1.2"/>
<clipPath id="c17"><rect x="369.30" y="242.30" width="40.70" height="10.40"/></clipPath>
<rect x="369.30" y="242.30" width="40.70" height="10.40" fill="#d6d6d6" />
<g clip-path="url(#c17)">
<rect x="370.20" y="245.10" width="8.40" height="4.80" rx="2.04" fill="#333" opacity="0.35" filter="url(#blm)"/>
<rect x="380.30" y="245.10" width="8.40" height="4.80" rx="2.04" fill="#333" opacity="0.35" filter="url(#blm)"/>
<rect x="390.30" y="245.10" width="8.40" height="4.80" rx="2.04" fill="#333" opacity="0.35" filter="url(#blm)"/>
<rect x="400.50" y="245.10" width="8.40" height="4.80" rx="2.04" fill="#333" opacity="0.35" filter="url(#blm)"/>
<rect x="370.50" y="246.20" width="7.80" height="2.60" rx="1.10" fill="#080808" opacity="1" filter="url(#bls)"/>
<rect x="380.60" y="246.20" width="7.80" height="2.60" rx="1.10" fill="#080808" opacity="1" filter="url(#bls)"/>
<rect x="390.60" y="246.20" width="7.80" height="2.60" rx="1.10" fill="#080808" opacity="0.95" filter="url(#bls)"/>
<rect x="400.80" y="246.20" width="7.80" height="2.60" rx="1.10" fill="#080808" opacity="1" filter="url(#bls)"/>
</g>
<rect x="369.30" y="242.30" width="40.70" height="10.40" fill="none" stroke="#1c1c1c" stroke-width="1.2"/>
<clipPath id="c18"><rect x="412.40" y="242.30" width="40.80" height="10.40"/></clipPath>
<rect x="412.40" y="242.30" width="40.80" height="10.40" fill="#a6a6a6" />
<g clip-path="url(#c18)">
<rect x="412.70" y="246.20" width="8.00" height="2.60" rx="1.10" fill="#080808" opacity="1" filter="url(#bls)"/>
<rect x="423.00" y="246.41" width="8.00" height="2.60" rx="1.10" fill="#080808" opacity="1" filter="url(#bls)"/>
<rect x="433.50" y="246.72" width="8.00" height="2.60" rx="1.10" fill="#080808" opacity="0.9" filter="url(#bls)"/>
<rect x="444.00" y="246.72" width="8.00" height="2.60" rx="1.10" fill="#080808" opacity="0.95" filter="url(#bls)"/>
</g>
<rect x="412.40" y="242.30" width="40.80" height="10.40" fill="none" stroke="#1c1c1c" stroke-width="1.2"/>
<clipPath id="c19"><rect x="455.70" y="242.30" width="41.10" height="10.40"/></clipPath>
<rect x="455.70" y="242.30" width="41.10" height="10.40" fill="#c8c8c8" />
<g clip-path="url(#c19)">
<rect x="456.50" y="245.67" width="7.60" height="2.00" rx="0.85" fill="#1a1a1a" opacity="0.9" filter="url(#bls)"/>
<rect x="466.40" y="245.98" width="7.60" height="2.00" rx="0.85" fill="#1a1a1a" opacity="0.8" filter="url(#bls)"/>
<rect x="476.80" y="246.19" width="7.60" height="2.00" rx="0.85" fill="#1a1a1a" opacity="0.8" filter="url(#bls)"/>
<rect x="486.80" y="246.50" width="7.60" height="2.00" rx="0.85" fill="#1a1a1a" opacity="0.8" filter="url(#bls)"/>
</g>
<rect x="455.70" y="242.30" width="41.10" height="10.40" fill="none" stroke="#1c1c1c" stroke-width="1.2"/>
<clipPath id="c20"><rect x="369.30" y="255.60" width="40.70" height="10.00"/></clipPath>
<rect x="369.30" y="255.60" width="40.70" height="10.00" fill="#adadad" />
<g clip-path="url(#c20)">
<rect x="370.40" y="258.30" width="8.00" height="3.00" rx="1.27" fill="#0c0c0c" opacity="0.7" filter="url(#bl)"/>
<rect x="380.50" y="259.90" width="8.00" height="3.00" rx="1.27" fill="#0c0c0c" opacity="1" filter="url(#bl)"/>
<rect x="390.50" y="258.30" width="8.00" height="3.00" rx="1.27" fill="#0c0c0c" opacity="0.65" filter="url(#bl)"/>
<rect x="400.70" y="260.30" width="8.00" height="3.00" rx="1.27" fill="#0c0c0c" opacity="1" filter="url(#bl)"/>
</g>
<rect x="369.30" y="255.60" width="40.70" height="10.00" fill="none" stroke="#1c1c1c" stroke-width="1.2"/>
<clipPath id="c21"><rect x="412.40" y="255.60" width="40.80" height="10.00"/></clipPath>
<rect x="412.40" y="255.60" width="40.80" height="10.00" fill="#9c9c9c" />
<g clip-path="url(#c21)">
<rect x="412.70" y="258.10" width="8.00" height="3.00" rx="1.27" fill="#0c0c0c" opacity="0.65" filter="url(#bl)"/>
<rect x="423.00" y="259.40" width="8.00" height="3.00" rx="1.27" fill="#0c0c0c" opacity="1" filter="url(#bl)"/>
<rect x="433.50" y="258.40" width="8.00" height="3.00" rx="1.27" fill="#0c0c0c" opacity="0.7" filter="url(#bl)"/>
<rect x="444.00" y="259.90" width="8.00" height="3.00" rx="1.27" fill="#0c0c0c" opacity="0.9" filter="url(#bl)"/>
</g>
<rect x="412.40" y="255.60" width="40.80" height="10.00" fill="none" stroke="#1c1c1c" stroke-width="1.2"/>
<clipPath id="c22"><rect x="455.70" y="255.60" width="41.10" height="10.00"/></clipPath>
<rect x="455.70" y="255.60" width="41.10" height="10.00" fill="#9c9c9c" />
<g clip-path="url(#c22)">
<rect x="456.70" y="260.00" width="7.20" height="2.20" rx="0.94" fill="#333" opacity="0.3" filter="url(#bl)"/>
<rect x="466.60" y="260.00" width="7.20" height="2.20" rx="0.94" fill="#333" opacity="0.5" filter="url(#bl)"/>
<rect x="477.00" y="260.00" width="7.20" height="2.20" rx="0.94" fill="#333" opacity="0.3" filter="url(#bl)"/>
<rect x="487.00" y="260.80" width="7.20" height="2.20" rx="0.94" fill="#333" opacity="0.5" filter="url(#bl)"/>
</g>
<rect x="455.70" y="255.60" width="41.10" height="10.00" fill="none" stroke="#1c1c1c" stroke-width="1.2"/>
<clipPath id="c23"><rect x="369.30" y="268.60" width="40.70" height="10.40"/></clipPath>
<rect x="369.30" y="268.60" width="40.70" height="10.40" fill="#dcdcdc" />
<g clip-path="url(#c23)">
<rect x="370.20" y="271.81" width="8.40" height="4.40" rx="1.87" fill="#333" opacity="0.25" filter="url(#blm)"/>
<rect x="380.30" y="271.81" width="8.40" height="4.40" rx="1.87" fill="#333" opacity="0.25" filter="url(#blm)"/>
<rect x="390.30" y="271.81" width="8.40" height="4.40" rx="1.87" fill="#333" opacity="0.25" filter="url(#blm)"/>
<rect x="400.50" y="271.81" width="8.40" height="4.40" rx="1.87" fill="#333" opacity="0.25" filter="url(#blm)"/>
<rect x="370.40" y="272.61" width="8.00" height="2.80" rx="1.19" fill="#080808" opacity="1" filter="url(#bls)"/>
<rect x="380.50" y="272.61" width="8.00" height="2.80" rx="1.19" fill="#080808" opacity="1" filter="url(#bls)"/>
<rect x="390.50" y="272.61" width="8.00" height="2.80" rx="1.19" fill="#080808" opacity="1" filter="url(#bls)"/>
<rect x="400.70" y="272.61" width="8.00" height="2.80" rx="1.19" fill="#080808" opacity="1" filter="url(#bls)"/>
</g>
<rect x="369.30" y="268.60" width="40.70" height="10.40" fill="none" stroke="#1c1c1c" stroke-width="1.2"/>
<clipPath id="c24"><rect x="412.40" y="268.60" width="40.80" height="10.40"/></clipPath>
<rect x="412.40" y="268.60" width="40.80" height="10.40" fill="#c8c8c8" />
<g clip-path="url(#c24)">
<rect x="412.50" y="271.81" width="8.40" height="4.40" rx="1.87" fill="#333" opacity="0.25" filter="url(#blm)"/>
<rect x="422.80" y="271.81" width="8.40" height="4.40" rx="1.87" fill="#333" opacity="0.25" filter="url(#blm)"/>
<rect x="433.30" y="271.81" width="8.40" height="4.40" rx="1.87" fill="#333" opacity="0.25" filter="url(#blm)"/>
<rect x="443.80" y="271.81" width="8.40" height="4.40" rx="1.87" fill="#333" opacity="0.25" filter="url(#blm)"/>
<rect x="412.70" y="272.61" width="8.00" height="2.80" rx="1.19" fill="#080808" opacity="1" filter="url(#bls)"/>
<rect x="423.00" y="272.61" width="8.00" height="2.80" rx="1.19" fill="#080808" opacity="1" filter="url(#bls)"/>
<rect x="433.50" y="272.61" width="8.00" height="2.80" rx="1.19" fill="#080808" opacity="0.95" filter="url(#bls)"/>
<rect x="444.00" y="272.61" width="8.00" height="2.80" rx="1.19" fill="#080808" opacity="1" filter="url(#bls)"/>
</g>
<rect x="412.40" y="268.60" width="40.80" height="10.40" fill="none" stroke="#1c1c1c" stroke-width="1.2"/>
<clipPath id="c25"><rect x="455.70" y="268.60" width="41.10" height="10.40"/></clipPath>
<rect x="455.70" y="268.60" width="41.10" height="10.40" fill="#dadada" />
<g clip-path="url(#c25)">
<rect x="456.10" y="271.81" width="8.40" height="4.40" rx="1.87" fill="#333" opacity="0.25" filter="url(#blm)"/>
<rect x="466.00" y="271.81" width="8.40" height="4.40" rx="1.87" fill="#333" opacity="0.25" filter="url(#blm)"/>
<rect x="476.40" y="271.81" width="8.40" height="4.40" rx="1.87" fill="#333" opacity="0.25" filter="url(#blm)"/>
<rect x="486.40" y="271.81" width="8.40" height="4.40" rx="1.87" fill="#333" opacity="0.25" filter="url(#blm)"/>
<rect x="456.40" y="272.61" width="7.80" height="2.80" rx="1.19" fill="#080808" opacity="1" filter="url(#bls)"/>
<rect x="466.30" y="272.61" width="7.80" height="2.80" rx="1.19" fill="#080808" opacity="0.95" filter="url(#bls)"/>
<rect x="476.70" y="272.61" width="7.80" height="2.80" rx="1.19" fill="#080808" opacity="0.95" filter="url(#bls)"/>
<rect x="486.70" y="272.61" width="7.80" height="2.80" rx="1.19" fill="#080808" opacity="1" filter="url(#bls)"/>
</g>
<rect x="455.70" y="268.60" width="41.10" height="10.40" fill="none" stroke="#1c1c1c" stroke-width="1.2"/>
<text x="6.70" y="318.40" font-size="12" text-anchor="start" fill="#0a0a0a" font-weight="700" textLength="9.00" lengthAdjust="spacingAndGlyphs">G</text>
<text x="7.40" y="332.80" font-size="7" text-anchor="start" fill="#1e1e1e" textLength="17.50" lengthAdjust="spacingAndGlyphs">PD-L1</text>
<text x="15.90" y="340.30" font-size="7" text-anchor="middle" fill="#1e1e1e" textLength="9.80" lengthAdjust="spacingAndGlyphs">MFI</text>
<rect x="34.20" y="421.16" width="4.60" height="0.04" fill="#c4122f" />
<rect x="39.42" y="421.13" width="4.60" height="0.07" fill="#d3e4f5" />
<rect x="44.64" y="421.02" width="4.60" height="0.18" fill="#8fc0e8" />
<rect x="49.86" y="420.79" width="4.60" height="0.41" fill="#3a9bd8" />
<rect x="55.08" y="420.38" width="4.60" height="0.82" fill="#6c85b8" />
<rect x="60.30" y="419.50" width="4.60" height="1.70" fill="#1c3f77" />
<line x1="62.60" y1="419.80" x2="62.60" y2="418.60" stroke="#6f86a8" stroke-width="0.5"/>
<line x1="61.70" y1="418.70" x2="63.50" y2="418.70" stroke="#6f86a8" stroke-width="0.5"/>
<rect x="69.20" y="419.50" width="4.60" height="1.70" fill="#c4122f" />
<line x1="71.50" y1="419.80" x2="71.50" y2="418.60" stroke="#6f86a8" stroke-width="0.5"/>
<line x1="70.60" y1="418.70" x2="72.40" y2="418.70" stroke="#6f86a8" stroke-width="0.5"/>
<rect x="74.42" y="419.79" width="4.60" height="1.41" fill="#d3e4f5" />
<line x1="76.72" y1="420.09" x2="76.72" y2="418.89" stroke="#6f86a8" stroke-width="0.5"/>
<line x1="75.82" y1="418.99" x2="77.62" y2="418.99" stroke="#6f86a8" stroke-width="0.5"/>
<rect x="79.64" y="418.85" width="4.60" height="2.35" fill="#8fc0e8" />
<line x1="81.94" y1="419.15" x2="81.94" y2="417.95" stroke="#6f86a8" stroke-width="0.5"/>
<line x1="81.04" y1="418.05" x2="82.84" y2="418.05" stroke="#6f86a8" stroke-width="0.5"/>
<rect x="84.86" y="416.85" width="4.60" height="4.35" fill="#3a9bd8" />
<line x1="87.16" y1="417.15" x2="87.16" y2="415.95" stroke="#6f86a8" stroke-width="0.5"/>
<line x1="86.26" y1="416.05" x2="88.06" y2="416.05" stroke="#6f86a8" stroke-width="0.5"/>
<rect x="90.08" y="412.50" width="4.60" height="8.70" fill="#6c85b8" />
<line x1="92.38" y1="412.81" x2="92.38" y2="411.61" stroke="#6f86a8" stroke-width="0.5"/>
<line x1="91.48" y1="411.71" x2="93.28" y2="411.71" stroke="#6f86a8" stroke-width="0.5"/>
<rect x="95.30" y="408.27" width="4.60" height="12.93" fill="#1c3f77" />
<line x1="97.60" y1="408.57" x2="97.60" y2="407.38" stroke="#6f86a8" stroke-width="0.5"/>
<line x1="96.70" y1="407.48" x2="98.50" y2="407.48" stroke="#6f86a8" stroke-width="0.5"/>
<rect x="105.00" y="414.50" width="4.60" height="6.70" fill="#c4122f" />
<line x1="107.30" y1="414.80" x2="107.30" y2="413.60" stroke="#6f86a8" stroke-width="0.5"/>
<line x1="106.40" y1="413.70" x2="108.20" y2="413.70" stroke="#6f86a8" stroke-width="0.5"/>
<rect x="110.22" y="412.03" width="4.60" height="9.17" fill="#d3e4f5" />
<line x1="112.52" y1="412.33" x2="112.52" y2="411.13" stroke="#6f86a8" stroke-width="0.5"/>
<line x1="111.62" y1="411.24" x2="113.42" y2="411.24" stroke="#6f86a8" stroke-width="0.5"/>
<rect x="115.44" y="403.81" width="4.60" height="17.39" fill="#8fc0e8" />
<line x1="117.74" y1="404.11" x2="117.74" y2="402.91" stroke="#6f86a8" stroke-width="0.5"/>
<line x1="116.84" y1="403.01" x2="118.64" y2="403.01" stroke="#6f86a8" stroke-width="0.5"/>
<rect x="120.66" y="383.01" width="4.60" height="38.19" fill="#3a9bd8" />
<line x1="122.96" y1="383.31" x2="122.96" y2="382.11" stroke="#6f86a8" stroke-width="0.5"/>
<line x1="122.06" y1="382.21" x2="123.86" y2="382.21" stroke="#6f86a8" stroke-width="0.5"/>
<rect x="125.88" y="365.86" width="4.60" height="55.34" fill="#6c85b8" />
<line x1="128.18" y1="366.16" x2="128.18" y2="364.96" stroke="#6f86a8" stroke-width="0.5"/>
<line x1="127.28" y1="365.06" x2="129.08" y2="365.06" stroke="#6f86a8" stroke-width="0.5"/>
<rect x="131.10" y="359.51" width="4.60" height="61.69" fill="#1c3f77" />
<line x1="133.40" y1="359.81" x2="133.40" y2="358.61" stroke="#6f86a8" stroke-width="0.5"/>
<line x1="132.50" y1="358.71" x2="134.30" y2="358.71" stroke="#6f86a8" stroke-width="0.5"/>
<line x1="31.20" y1="347.30" x2="31.20" y2="421.70" stroke="#222" stroke-width="1"/>
<line x1="30.70" y1="421.20" x2="137.50" y2="421.20" stroke="#222" stroke-width="1"/>
<line x1="48.50" y1="421.20" x2="48.50" y2="424.20" stroke="#222" stroke-width="0.8"/>
<line x1="84.40" y1="421.20" x2="84.40" y2="424.20" stroke="#222" stroke-width="0.8"/>
<line x1="120.40" y1="421.20" x2="120.40" y2="424.20" stroke="#222" stroke-width="0.8"/>
<line x1="28.60" y1="421.20" x2="31.20" y2="421.20" stroke="#222" stroke-width="0.8"/>
<text x="25.20" y="423.70" font-size="7" text-anchor="end" fill="#1e1e1e" textLength="3.60" lengthAdjust="spacingAndGlyphs">0</text>
<line x1="28.60" y1="397.70" x2="31.20" y2="397.70" stroke="#222" stroke-width="0.8"/>
<text x="25.20" y="400.20" font-size="7" text-anchor="end" fill="#1e1e1e" textLength="18.00" lengthAdjust="spacingAndGlyphs">20000</text>
<line x1="28.60" y1="374.20" x2="31.20" y2="374.20" stroke="#222" stroke-width="0.8"/>
<text x="25.20" y="376.70" font-size="7" text-anchor="end" fill="#1e1e1e" textLength="18.00" lengthAdjust="spacingAndGlyphs">40000</text>
<line x1="28.60" y1="350.70" x2="31.20" y2="350.70" stroke="#222" stroke-width="0.8"/>
<text x="25.20" y="353.20" font-size="7" text-anchor="end" fill="#1e1e1e" textLength="18.00" lengthAdjust="spacingAndGlyphs">60000</text>
<text x="40.20" y="335.30" font-size="7" text-anchor="start" fill="#1e1e1e" textLength="51.20" lengthAdjust="spacingAndGlyphs">Pevonedistat (nM)</text>
<rect x="39.20" y="339.30" width="5.90" height="2.60" fill="#c4122f" />
<text x="47.30" y="343.00" font-size="6.8" text-anchor="start" fill="#1e1e1e" textLength="3.40" lengthAdjust="spacingAndGlyphs">0</text>
<rect x="39.20" y="345.85" width="5.90" height="2.60" fill="#d3e4f5" />
<text x="47.30" y="349.55" font-size="6.8" text-anchor="start" fill="#1e1e1e" textLength="15.50" lengthAdjust="spacingAndGlyphs">156.2</text>
<rect x="39.20" y="352.40" width="5.90" height="2.60" fill="#8fc0e8" />
<text x="47.30" y="356.10" font-size="6.8" text-anchor="start" fill="#1e1e1e" textLength="15.50" lengthAdjust="spacingAndGlyphs">312.5</text>
<rect x="39.20" y="358.95" width="5.90" height="2.60" fill="#3a9bd8" />
<text x="47.30" y="362.65" font-size="6.8" text-anchor="start" fill="#1e1e1e" textLength="10.30" lengthAdjust="spacingAndGlyphs">625</text>
<rect x="39.20" y="365.50" width="5.90" height="2.60" fill="#6c85b8" />
<text x="47.30" y="369.20" font-size="6.8" text-anchor="start" fill="#1e1e1e" textLength="13.80" lengthAdjust="spacingAndGlyphs">1250</text>
<rect x="39.20" y="372.05" width="5.90" height="2.60" fill="#1c3f77" />
<text x="47.30" y="375.75" font-size="6.8" text-anchor="start" fill="#1e1e1e" textLength="13.80" lengthAdjust="spacingAndGlyphs">2500</text>
<text x="49.00" y="433.80" font-size="6.8" text-anchor="middle" fill="#1e1e1e" textLength="11.50" lengthAdjust="spacingAndGlyphs">KK1</text>
<text x="49.00" y="441.40" font-size="6.8" text-anchor="middle" fill="#1e1e1e" textLength="43.40" lengthAdjust="spacingAndGlyphs">unmanipulated</text>
<text x="84.20" y="433.80" font-size="6.8" text-anchor="middle" fill="#1e1e1e" textLength="11.50" lengthAdjust="spacingAndGlyphs">KK1</text>
<text x="84.20" y="441.40" font-size="6.8" text-anchor="middle" fill="#1e1e1e" textLength="17.20" lengthAdjust="spacingAndGlyphs">PD-L1</text>
<text x="84.20" y="449.00" font-size="6.8" text-anchor="middle" fill="#1e1e1e" textLength="13.00" lengthAdjust="spacingAndGlyphs">-SV7</text>
<text x="119.40" y="433.80" font-size="6.8" text-anchor="middle" fill="#1e1e1e" textLength="11.50" lengthAdjust="spacingAndGlyphs">KK1</text>
<text x="119.40" y="441.40" font-size="6.8" text-anchor="middle" fill="#1e1e1e" textLength="17.20" lengthAdjust="spacingAndGlyphs">PD-L1</text>
<text x="119.40" y="449.00" font-size="6.8" text-anchor="middle" fill="#1e1e1e" textLength="26.30" lengthAdjust="spacingAndGlyphs">-SV15-12</text>
<text x="156.20" y="318.50" font-size="12" text-anchor="start" fill="#0a0a0a" font-weight="700" textLength="8.80" lengthAdjust="spacingAndGlyphs">H</text>
<text x="156.20" y="340.20" font-size="7" text-anchor="start" fill="#1e1e1e" textLength="17.30" lengthAdjust="spacingAndGlyphs">PD-L1</text>
<text x="164.60" y="348.00" font-size="7" text-anchor="middle" fill="#1e1e1e" textLength="9.80" lengthAdjust="spacingAndGlyphs">MFI</text>
<rect x="181.00" y="420.58" width="4.70" height="0.62" fill="#c4122f" />
<rect x="186.17" y="409.80" width="4.70" height="11.40" fill="#d3e4f5" />
<line x1="188.37" y1="410.10" x2="188.37" y2="409.00" stroke="#6f86a8" stroke-width="0.5"/>
<line x1="187.47" y1="409.10" x2="189.27" y2="409.10" stroke="#6f86a8" stroke-width="0.5"/>
<rect x="191.34" y="414.35" width="4.70" height="6.85" fill="#8fc0e8" />
<line x1="193.54" y1="414.65" x2="193.54" y2="413.55" stroke="#6f86a8" stroke-width="0.5"/>
<line x1="192.64" y1="413.65" x2="194.44" y2="413.65" stroke="#6f86a8" stroke-width="0.5"/>
<rect x="196.51" y="419.42" width="4.70" height="1.78" fill="#3a9bd8" />
<rect x="201.68" y="420.89" width="4.70" height="0.31" fill="#6c85b8" />
<rect x="206.85" y="421.04" width="4.70" height="0.16" fill="#1c3f77" />
<rect x="213.20" y="416.68" width="4.70" height="4.52" fill="#c4122f" />
<rect x="218.37" y="392.54" width="4.70" height="28.66" fill="#d3e4f5" />
<line x1="220.57" y1="392.84" x2="220.57" y2="390.94" stroke="#6f86a8" stroke-width="0.5"/>
<line x1="219.67" y1="391.04" x2="221.47" y2="391.04" stroke="#6f86a8" stroke-width="0.5"/>
<rect x="223.54" y="402.51" width="4.70" height="18.69" fill="#8fc0e8" />
<line x1="225.74" y1="402.81" x2="225.74" y2="401.71" stroke="#6f86a8" stroke-width="0.5"/>
<line x1="224.84" y1="401.81" x2="226.64" y2="401.81" stroke="#6f86a8" stroke-width="0.5"/>
<rect x="228.71" y="412.48" width="4.70" height="8.72" fill="#3a9bd8" />
<line x1="230.91" y1="412.78" x2="230.91" y2="411.68" stroke="#6f86a8" stroke-width="0.5"/>
<line x1="230.01" y1="411.78" x2="231.81" y2="411.78" stroke="#6f86a8" stroke-width="0.5"/>
<rect x="233.88" y="418.24" width="4.70" height="2.96" fill="#6c85b8" />
<rect x="239.05" y="418.49" width="4.70" height="2.71" fill="#1c3f77" />
<rect x="245.00" y="407.49" width="4.70" height="13.71" fill="#c4122f" />
<line x1="247.20" y1="407.79" x2="247.20" y2="406.69" stroke="#6f86a8" stroke-width="0.5"/>
<line x1="246.30" y1="406.79" x2="248.10" y2="406.79" stroke="#6f86a8" stroke-width="0.5"/>
<rect x="250.17" y="344.10" width="4.70" height="77.10" fill="#d3e4f5" />
<rect x="255.34" y="373.23" width="4.70" height="47.97" fill="#8fc0e8" />
<line x1="257.54" y1="373.53" x2="257.54" y2="372.43" stroke="#6f86a8" stroke-width="0.5"/>
<line x1="256.64" y1="372.53" x2="258.44" y2="372.53" stroke="#6f86a8" stroke-width="0.5"/>
<rect x="260.51" y="400.64" width="4.70" height="20.56" fill="#3a9bd8" />
<line x1="262.71" y1="400.94" x2="262.71" y2="399.84" stroke="#6f86a8" stroke-width="0.5"/>
<line x1="261.81" y1="399.94" x2="263.61" y2="399.94" stroke="#6f86a8" stroke-width="0.5"/>
<rect x="265.68" y="412.17" width="4.70" height="9.03" fill="#6c85b8" />
<line x1="267.88" y1="412.47" x2="267.88" y2="411.37" stroke="#6f86a8" stroke-width="0.5"/>
<line x1="266.98" y1="411.47" x2="268.78" y2="411.47" stroke="#6f86a8" stroke-width="0.5"/>
<rect x="270.85" y="412.48" width="4.70" height="8.72" fill="#1c3f77" />
<line x1="273.05" y1="412.78" x2="273.05" y2="411.68" stroke="#6f86a8" stroke-width="0.5"/>
<line x1="272.15" y1="411.78" x2="273.95" y2="411.78" stroke="#6f86a8" stroke-width="0.5"/>
<line x1="179.85" y1="341.00" x2="179.85" y2="421.70" stroke="#222" stroke-width="1"/>
<line x1="179.35" y1="421.20" x2="276.20" y2="421.20" stroke="#222" stroke-width="1"/>
<line x1="195.90" y1="421.20" x2="195.90" y2="424.00" stroke="#222" stroke-width="0.8"/>
<line x1="227.90" y1="421.20" x2="227.90" y2="424.00" stroke="#222" stroke-width="0.8"/>
<line x1="259.80" y1="421.20" x2="259.80" y2="424.00" stroke="#222" stroke-width="0.8"/>
<line x1="177.25" y1="421.20" x2="179.85" y2="421.20" stroke="#222" stroke-width="0.8"/>
<text x="174.80" y="423.70" font-size="7" text-anchor="end" fill="#1e1e1e" textLength="3.60" lengthAdjust="spacingAndGlyphs">0</text>
<line x1="177.25" y1="390.05" x2="179.85" y2="390.05" stroke="#222" stroke-width="0.8"/>
<text x="174.80" y="392.55" font-size="7" text-anchor="end" fill="#1e1e1e" textLength="18.40" lengthAdjust="spacingAndGlyphs">10000</text>
<line x1="177.25" y1="358.90" x2="179.85" y2="358.90" stroke="#222" stroke-width="0.8"/>
<text x="174.80" y="361.40" font-size="7" text-anchor="end" fill="#1e1e1e" textLength="18.40" lengthAdjust="spacingAndGlyphs">20000</text>
<text x="200.20" y="327.90" font-size="7" text-anchor="middle" fill="#1e1e1e" textLength="14.20" lengthAdjust="spacingAndGlyphs">Pevo</text>
<text x="200.20" y="335.20" font-size="7" text-anchor="middle" fill="#1e1e1e" textLength="12.60" lengthAdjust="spacingAndGlyphs">(nM)</text>
<text x="220.60" y="327.90" font-size="7" text-anchor="middle" fill="#1e1e1e" textLength="16.40" lengthAdjust="spacingAndGlyphs">Ruxol</text>
<text x="220.60" y="335.20" font-size="7" text-anchor="middle" fill="#1e1e1e" textLength="12.60" lengthAdjust="spacingAndGlyphs">(nM)</text>
<rect x="182.70" y="340.10" width="6.50" height="2.60" fill="#c4122f" />
<text x="191.80" y="343.90" font-size="7" text-anchor="start" fill="#1e1e1e" textLength="19.30" lengthAdjust="spacingAndGlyphs">DMSO</text>
<text x="212.60" y="343.90" font-size="7" text-anchor="start" fill="#1e1e1e" textLength="19.30" lengthAdjust="spacingAndGlyphs">DMSO</text>
<rect x="182.70" y="348.18" width="6.50" height="2.60" fill="#d3e4f5" />
<text x="191.80" y="351.98" font-size="7" text-anchor="start" fill="#1e1e1e" textLength="14.20" lengthAdjust="spacingAndGlyphs">1250</text>
<text x="212.60" y="351.98" font-size="7" text-anchor="start" fill="#1e1e1e" textLength="19.30" lengthAdjust="spacingAndGlyphs">DMSO</text>
<rect x="182.70" y="356.26" width="6.50" height="2.60" fill="#8fc0e8" />
<text x="191.80" y="360.06" font-size="7" text-anchor="start" fill="#1e1e1e" textLength="14.20" lengthAdjust="spacingAndGlyphs">1250</text>
<text x="212.60" y="360.06" font-size="7" text-anchor="start" fill="#1e1e1e" textLength="7.20" lengthAdjust="spacingAndGlyphs">39</text>
<rect x="182.70" y="364.34" width="6.50" height="2.60" fill="#3a9bd8" />
<text x="191.80" y="368.14" font-size="7" text-anchor="start" fill="#1e1e1e" textLength="14.20" lengthAdjust="spacingAndGlyphs">1250</text>
<text x="212.60" y="368.14" font-size="7" text-anchor="start" fill="#1e1e1e" textLength="10.60" lengthAdjust="spacingAndGlyphs">156</text>
<rect x="182.70" y="372.42" width="6.50" height="2.60" fill="#6c85b8" />
<text x="191.80" y="376.22" font-size="7" text-anchor="start" fill="#1e1e1e" textLength="14.20" lengthAdjust="spacingAndGlyphs">1250</text>
<text x="212.60" y="376.22" font-size="7" text-anchor="start" fill="#1e1e1e" textLength="10.60" lengthAdjust="spacingAndGlyphs">625</text>
<rect x="182.70" y="380.50" width="6.50" height="2.60" fill="#1c3f77" />
<text x="191.80" y="384.30" font-size="7" text-anchor="start" fill="#1e1e1e" textLength="14.20" lengthAdjust="spacingAndGlyphs">1250</text>
<text x="212.60" y="384.30" font-size="7" text-anchor="start" fill="#1e1e1e" textLength="14.30" lengthAdjust="spacingAndGlyphs">2500</text>
<text x="195.60" y="431.90" font-size="6.8" text-anchor="middle" fill="#1e1e1e" textLength="11.50" lengthAdjust="spacingAndGlyphs">KK1</text>
<text x="195.60" y="439.45" font-size="6.8" text-anchor="middle" fill="#1e1e1e" textLength="41.80" lengthAdjust="spacingAndGlyphs">unmanipulated</text>
<text x="227.70" y="431.90" font-size="6.8" text-anchor="middle" fill="#1e1e1e" textLength="11.50" lengthAdjust="spacingAndGlyphs">KK1</text>
<text x="227.70" y="439.45" font-size="6.8" text-anchor="middle" fill="#1e1e1e" textLength="17.20" lengthAdjust="spacingAndGlyphs">PD-L1</text>
<text x="227.70" y="447.00" font-size="6.8" text-anchor="middle" fill="#1e1e1e" textLength="12.00" lengthAdjust="spacingAndGlyphs">-SV7</text>
<text x="260.30" y="431.90" font-size="6.8" text-anchor="middle" fill="#1e1e1e" textLength="11.50" lengthAdjust="spacingAndGlyphs">KK1</text>
<text x="260.30" y="439.45" font-size="6.8" text-anchor="middle" fill="#1e1e1e" textLength="17.20" lengthAdjust="spacingAndGlyphs">PD-L1</text>
<text x="260.30" y="447.00" font-size="6.8" text-anchor="middle" fill="#1e1e1e" textLength="25.60" lengthAdjust="spacingAndGlyphs">-SV15-12</text>
<text x="294.70" y="318.50" font-size="12" text-anchor="start" fill="#0a0a0a" font-weight="700" textLength="3.30" lengthAdjust="spacingAndGlyphs">I</text>
<rect x="331.20" y="393.69" width="2.60" height="0.11" fill="#c4122f" />
<rect x="333.75" y="392.17" width="2.60" height="1.63" fill="#d3e4f5" />
<rect x="336.30" y="390.00" width="2.60" height="3.80" fill="#8fc0e8" />
<rect x="338.85" y="387.28" width="2.60" height="6.52" fill="#3a9bd8" />
<rect x="341.40" y="383.48" width="2.60" height="10.32" fill="#6c85b8" />
<rect x="343.95" y="382.67" width="2.60" height="11.13" fill="#1c3f77" />
<line x1="338.80" y1="393.80" x2="338.80" y2="396.80" stroke="#222" stroke-width="0.8"/>
<rect x="347.45" y="393.26" width="2.60" height="0.54" fill="#c4122f" />
<rect x="350.00" y="392.17" width="2.60" height="1.63" fill="#d3e4f5" />
<rect x="352.55" y="390.00" width="2.60" height="3.80" fill="#8fc0e8" />
<rect x="355.10" y="386.74" width="2.60" height="7.06" fill="#3a9bd8" />
<rect x="357.65" y="382.94" width="2.60" height="10.86" fill="#6c85b8" />
<rect x="360.20" y="379.68" width="2.60" height="14.12" fill="#1c3f77" />
<line x1="355.05" y1="393.80" x2="355.05" y2="396.80" stroke="#222" stroke-width="0.8"/>
<rect x="363.70" y="392.17" width="2.60" height="1.63" fill="#c4122f" />
<rect x="366.25" y="388.37" width="2.60" height="5.43" fill="#d3e4f5" />
<rect x="368.80" y="384.03" width="2.60" height="9.77" fill="#8fc0e8" />
<rect x="371.35" y="379.68" width="2.60" height="14.12" fill="#3a9bd8" />
<rect x="373.90" y="375.34" width="2.60" height="18.46" fill="#6c85b8" />
<rect x="376.45" y="374.25" width="2.60" height="19.55" fill="#1c3f77" />
<line x1="371.30" y1="393.80" x2="371.30" y2="396.80" stroke="#222" stroke-width="0.8"/>
<rect x="379.95" y="378.87" width="2.60" height="14.93" fill="#c4122f" />
<rect x="382.50" y="372.08" width="2.60" height="21.72" fill="#d3e4f5" />
<rect x="385.05" y="367.74" width="2.60" height="26.06" fill="#8fc0e8" />
<rect x="387.60" y="359.59" width="2.60" height="34.21" fill="#3a9bd8" />
<rect x="390.15" y="353.62" width="2.60" height="40.18" fill="#6c85b8" />
<rect x="392.70" y="347.64" width="2.60" height="46.16" fill="#1c3f77" />
<line x1="387.55" y1="393.80" x2="387.55" y2="396.80" stroke="#222" stroke-width="0.8"/>
<rect x="396.20" y="384.03" width="2.60" height="9.77" fill="#c4122f" />
<rect x="398.75" y="377.51" width="2.60" height="16.29" fill="#d3e4f5" />
<rect x="401.30" y="373.17" width="2.60" height="20.63" fill="#8fc0e8" />
<rect x="403.85" y="365.02" width="2.60" height="28.78" fill="#3a9bd8" />
<rect x="406.40" y="357.42" width="2.60" height="36.38" fill="#6c85b8" />
<rect x="408.95" y="351.99" width="2.60" height="41.81" fill="#1c3f77" />
<line x1="403.80" y1="393.80" x2="403.80" y2="396.80" stroke="#222" stroke-width="0.8"/>
<line x1="327.50" y1="337.50" x2="327.50" y2="394.30" stroke="#222" stroke-width="1"/>
<line x1="327.00" y1="393.80" x2="412.50" y2="393.80" stroke="#222" stroke-width="1"/>
<line x1="324.90" y1="393.80" x2="327.50" y2="393.80" stroke="#222" stroke-width="0.8"/>
<text x="323.60" y="396.20" font-size="6.8" text-anchor="end" fill="#1e1e1e" textLength="3.40" lengthAdjust="spacingAndGlyphs">0</text>
<line x1="324.90" y1="382.94" x2="327.50" y2="382.94" stroke="#222" stroke-width="0.8"/>
<text x="323.60" y="385.34" font-size="6.8" text-anchor="end" fill="#1e1e1e" textLength="12.60" lengthAdjust="spacingAndGlyphs">2000</text>
<line x1="324.90" y1="372.08" x2="327.50" y2="372.08" stroke="#222" stroke-width="0.8"/>
<text x="323.60" y="374.48" font-size="6.8" text-anchor="end" fill="#1e1e1e" textLength="12.60" lengthAdjust="spacingAndGlyphs">4000</text>
<line x1="324.90" y1="361.22" x2="327.50" y2="361.22" stroke="#222" stroke-width="0.8"/>
<text x="323.60" y="363.62" font-size="6.8" text-anchor="end" fill="#1e1e1e" textLength="12.60" lengthAdjust="spacingAndGlyphs">6000</text>
<line x1="324.90" y1="350.36" x2="327.50" y2="350.36" stroke="#222" stroke-width="0.8"/>
<text x="323.60" y="352.76" font-size="6.8" text-anchor="end" fill="#1e1e1e" textLength="12.60" lengthAdjust="spacingAndGlyphs">8000</text>
<line x1="324.90" y1="339.50" x2="327.50" y2="339.50" stroke="#222" stroke-width="0.8"/>
<text x="323.60" y="341.90" font-size="6.8" text-anchor="end" fill="#1e1e1e" textLength="15.40" lengthAdjust="spacingAndGlyphs">10000</text>
<text x="302.40" y="361.30" font-size="8.2" text-anchor="middle" fill="#333" textLength="38.50" lengthAdjust="spacingAndGlyphs" transform="rotate(-90 302.40 361.30)">PD-L1_MFI</text>
<text x="336.00" y="326.60" font-size="7" text-anchor="start" fill="#1e1e1e" textLength="52.50" lengthAdjust="spacingAndGlyphs">Pevonedistat (nM)</text>
<rect x="336.20" y="330.70" width="5.60" height="2.60" fill="#c4122f" />
<text x="344.20" y="334.40" font-size="6.8" text-anchor="start" fill="#1e1e1e" textLength="12.60" lengthAdjust="spacingAndGlyphs">0nm</text>
<rect x="336.20" y="338.15" width="5.60" height="2.60" fill="#d3e4f5" />
<text x="344.20" y="341.85" font-size="6.8" text-anchor="start" fill="#1e1e1e" textLength="25.00" lengthAdjust="spacingAndGlyphs">156.2nm</text>
<rect x="336.20" y="345.60" width="5.60" height="2.60" fill="#8fc0e8" />
<text x="344.20" y="349.30" font-size="6.8" text-anchor="start" fill="#1e1e1e" textLength="25.00" lengthAdjust="spacingAndGlyphs">312.5nm</text>
<rect x="336.20" y="353.05" width="5.60" height="2.60" fill="#3a9bd8" />
<text x="344.20" y="356.75" font-size="6.8" text-anchor="start" fill="#1e1e1e" textLength="19.60" lengthAdjust="spacingAndGlyphs">625nm</text>
<rect x="336.20" y="360.50" width="5.60" height="2.60" fill="#6c85b8" />
<text x="344.20" y="364.20" font-size="6.8" text-anchor="start" fill="#1e1e1e" textLength="23.20" lengthAdjust="spacingAndGlyphs">1250nm</text>
<rect x="336.20" y="367.95" width="5.60" height="2.60" fill="#1c3f77" />
<text x="344.20" y="371.65" font-size="6.8" text-anchor="start" fill="#1e1e1e" textLength="23.50" lengthAdjust="spacingAndGlyphs">2500nm</text>
<text x="341.30" y="398.60" font-size="7" text-anchor="end" fill="#1e1e1e" textLength="29.60" lengthAdjust="spacingAndGlyphs" transform="rotate(-90 341.30 398.60)">KK1-Mock</text>
<text x="357.55" y="398.60" font-size="7" text-anchor="end" fill="#1e1e1e" textLength="43.20" lengthAdjust="spacingAndGlyphs" transform="rotate(-90 357.55 398.60)">KK1-STAT3-WT</text>
<text x="373.80" y="398.60" font-size="7" text-anchor="end" fill="#1e1e1e" textLength="53.80" lengthAdjust="spacingAndGlyphs" transform="rotate(-90 373.80 398.60)">KK1-STAT3-D556N</text>
<text x="390.05" y="398.60" font-size="7" text-anchor="end" fill="#1e1e1e" textLength="52.60" lengthAdjust="spacingAndGlyphs" transform="rotate(-90 390.05 398.60)">KK1-STAT3-Y640F</text>
<text x="406.30" y="398.60" font-size="7" text-anchor="end" fill="#1e1e1e" textLength="53.30" lengthAdjust="spacingAndGlyphs" transform="rotate(-90 406.30 398.60)">KK1-STAT3-D661Y</text>
<text x="430.20" y="318.10" font-size="12" text-anchor="start" fill="#0a0a0a" font-weight="700" textLength="6.00" lengthAdjust="spacingAndGlyphs">J</text>
<text x="463.60" y="359.20" font-size="7" text-anchor="start" fill="#1e1e1e" textLength="15.00" lengthAdjust="spacingAndGlyphs" transform="rotate(-90 463.60 359.20)">mock</text>
<text x="475.10" y="359.20" font-size="7" text-anchor="start" fill="#1e1e1e" textLength="29.60" lengthAdjust="spacingAndGlyphs" transform="rotate(-90 475.10 359.20)">STAT3-WT</text>
<text x="486.40" y="359.20" font-size="7" text-anchor="start" fill="#1e1e1e" textLength="41.00" lengthAdjust="spacingAndGlyphs" transform="rotate(-90 486.40 359.20)">STAT3_D556N</text>
<text x="497.80" y="359.20" font-size="7" text-anchor="start" fill="#1e1e1e" textLength="41.00" lengthAdjust="spacingAndGlyphs" transform="rotate(-90 497.80 359.20)">STAT3_Y640F</text>
<text x="508.70" y="359.20" font-size="7" text-anchor="start" fill="#1e1e1e" textLength="40.20" lengthAdjust="spacingAndGlyphs" transform="rotate(-90 508.70 359.20)">STAT3_D661Y</text>
<text x="452.50" y="371.70" font-size="7.2" text-anchor="end" fill="#1e1e1e" textLength="16.50" lengthAdjust="spacingAndGlyphs">PD-L1</text>
<text x="452.50" y="386.90" font-size="7.2" text-anchor="end" fill="#1e1e1e" textLength="22.50" lengthAdjust="spacingAndGlyphs">pSTAT3</text>
<text x="452.50" y="402.00" font-size="7.2" text-anchor="end" fill="#1e1e1e" textLength="18.50" lengthAdjust="spacingAndGlyphs">STAT3</text>
<text x="452.50" y="417.20" font-size="7.2" text-anchor="end" fill="#1e1e1e" textLength="22.50" lengthAdjust="spacingAndGlyphs">GAPDH</text>
<clipPath id="c26"><rect x="455.40" y="362.40" width="57.40" height="12.80"/></clipPath>
<rect x="455.40" y="362.40" width="57.40" height="12.80" fill="#f2f2f2" />
<g clip-path="url(#c26)">
<rect x="490.60" y="366.66" width="9.60" height="4.80" rx="2.04" fill="#111" opacity="0.9" filter="url(#bl)"/>
<rect x="491.50" y="367.46" width="7.80" height="3.20" rx="1.36" fill="#000" opacity="1" filter="url(#bls)"/>
<rect x="502.20" y="367.64" width="8.40" height="3.60" rx="1.53" fill="#555" opacity="0.8" filter="url(#bl)"/>
</g>
<rect x="455.40" y="362.40" width="57.40" height="12.80" fill="none" stroke="#1c1c1c" stroke-width="1.1"/>
<clipPath id="c27"><rect x="455.40" y="378.00" width="57.40" height="13.40"/></clipPath>
<rect x="455.40" y="378.00" width="57.40" height="13.40" fill="#bcbcbc" />
<g clip-path="url(#c27)">
<rect x="455.40" y="378.00" width="7.00" height="13.40" fill="#fff" opacity="0.55" filter="url(#bl2)"/>
<rect x="458.40" y="384.81" width="7.60" height="3.00" rx="1.27" fill="#555" opacity="0.4" filter="url(#blm)"/>
<rect x="468.40" y="383.87" width="9.20" height="3.80" rx="1.61" fill="#2a2a2a" opacity="0.75" filter="url(#blm)"/>
<rect x="479.20" y="383.87" width="9.20" height="3.80" rx="1.61" fill="#2a2a2a" opacity="0.8" filter="url(#blm)"/>
<rect x="490.00" y="381.57" width="10.80" height="6.80" rx="2.89" fill="#222" opacity="0.8" filter="url(#blm)"/>
<rect x="490.40" y="382.97" width="10.00" height="4.00" rx="1.70" fill="#050505" opacity="1" filter="url(#bl)"/>
<rect x="501.60" y="383.07" width="9.60" height="4.60" rx="1.95" fill="#0c0c0c" opacity="0.95" filter="url(#blm)"/>
</g>
<rect x="455.40" y="378.00" width="57.40" height="13.40" fill="none" stroke="#1c1c1c" stroke-width="1.1"/>
<clipPath id="c28"><rect x="455.40" y="393.60" width="57.40" height="12.40"/></clipPath>
<rect x="455.40" y="393.60" width="57.40" height="12.40" fill="#d2d2d2" />
<g clip-path="url(#c28)">
<rect x="458.20" y="398.55" width="8.00" height="3.00" rx="1.27" fill="#3a3a3a" opacity="0.7" filter="url(#blm)"/>
<rect x="468.10" y="397.82" width="9.80" height="5.20" rx="2.21" fill="#2a2a2a" opacity="0.9" filter="url(#blm)"/>
<rect x="478.90" y="397.82" width="9.80" height="5.20" rx="2.21" fill="#2a2a2a" opacity="0.85" filter="url(#blm)"/>
<rect x="490.50" y="397.72" width="9.80" height="5.40" rx="2.29" fill="#222" opacity="0.9" filter="url(#blm)"/>
<rect x="501.50" y="397.82" width="9.80" height="5.20" rx="2.21" fill="#2a2a2a" opacity="0.9" filter="url(#blm)"/>
</g>
<rect x="455.40" y="393.60" width="57.40" height="12.40" fill="none" stroke="#1c1c1c" stroke-width="1.1"/>
<clipPath id="c29"><rect x="455.40" y="409.00" width="57.40" height="13.20"/></clipPath>
<rect x="455.40" y="409.00" width="57.40" height="13.20" fill="#cacaca" />
<g clip-path="url(#c29)">
<rect x="457.70" y="412.74" width="9.00" height="4.40" rx="1.87" fill="#444" opacity="0.35" filter="url(#blm)"/>
<rect x="468.50" y="413.14" width="9.00" height="4.40" rx="1.87" fill="#444" opacity="0.35" filter="url(#blm)"/>
<rect x="501.90" y="413.40" width="9.00" height="4.40" rx="1.87" fill="#444" opacity="0.3" filter="url(#blm)"/>
<rect x="457.90" y="413.64" width="8.60" height="2.60" rx="1.10" fill="#050505" opacity="1" filter="url(#bls)"/>
<rect x="468.70" y="414.04" width="8.60" height="2.60" rx="1.10" fill="#050505" opacity="1" filter="url(#bls)"/>
<rect x="479.70" y="414.56" width="8.20" height="2.60" rx="1.10" fill="#141414" opacity="0.95" filter="url(#bl)"/>
<rect x="491.40" y="414.56" width="8.00" height="2.60" rx="1.10" fill="#2a2a2a" opacity="0.8" filter="url(#bl)"/>
<rect x="502.00" y="414.10" width="8.80" height="3.00" rx="1.27" fill="#0a0a0a" opacity="1" filter="url(#bl)"/>
</g>
<rect x="455.40" y="409.00" width="57.40" height="13.20" fill="none" stroke="#1c1c1c" stroke-width="1.1"/>
<rect x="0.5" y="0.45" width="518.9" height="461.0" rx="1" ry="1" fill="none" stroke="#555" stroke-width="1.1"/>
</svg></body></html>
